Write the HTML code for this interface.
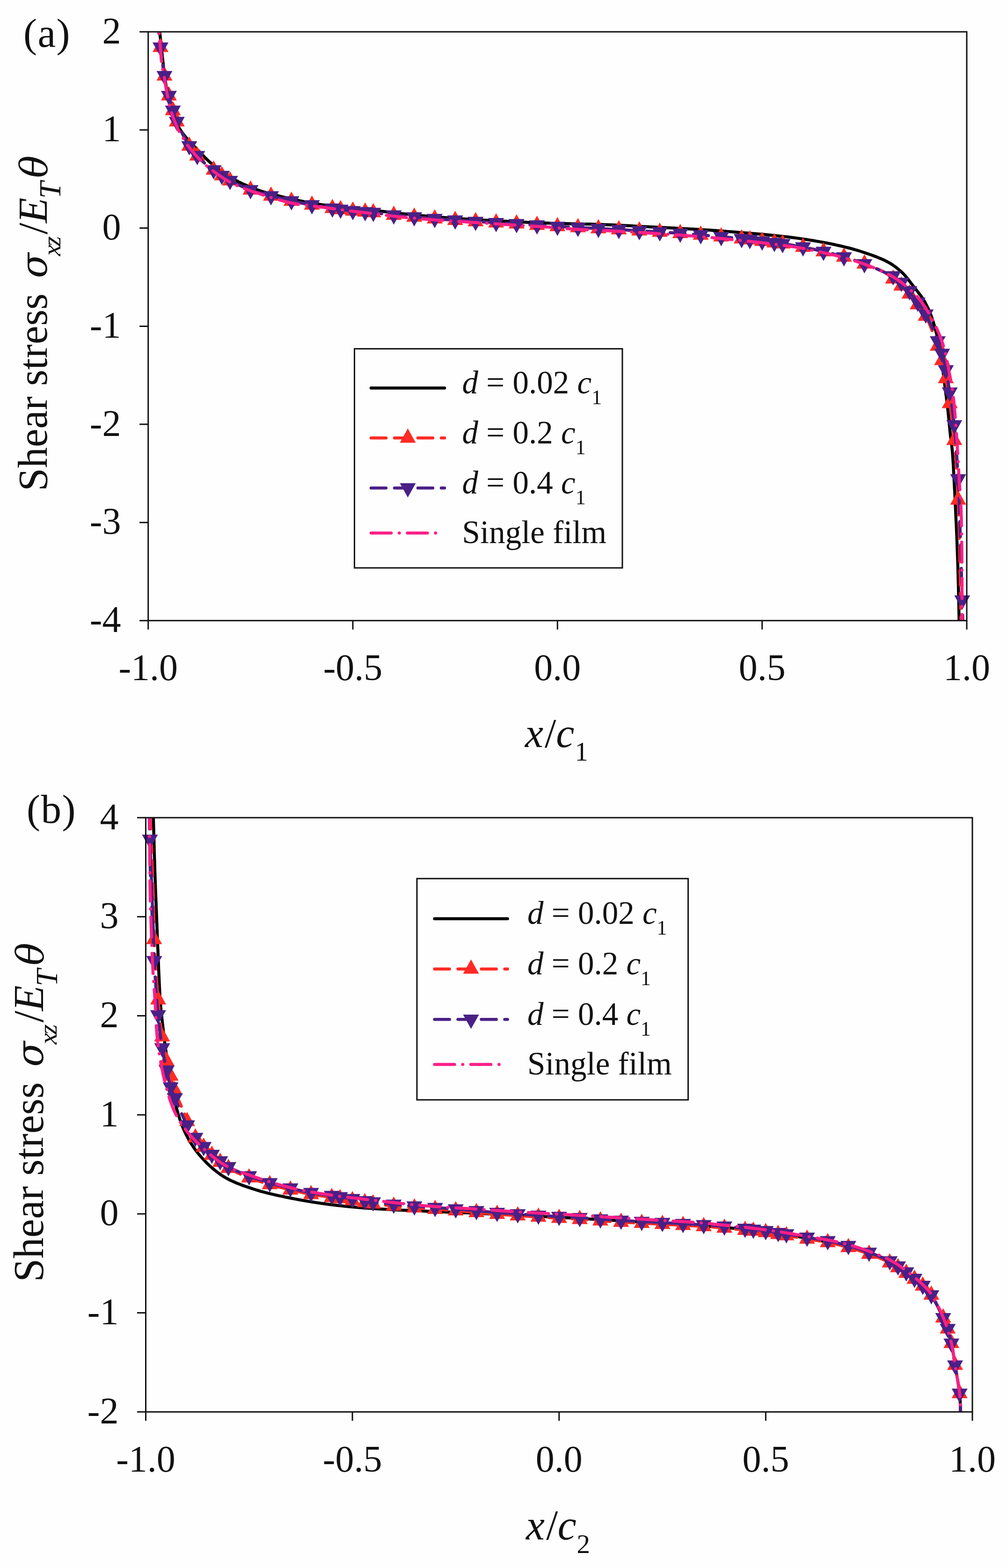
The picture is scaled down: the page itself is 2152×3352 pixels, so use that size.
<!DOCTYPE html>
<html><head><meta charset="utf-8"><title>Shear stress distribution</title>
<style>html,body{margin:0;padding:0;background:#fefefe}svg{display:block}</style></head>
<body>
<svg width="2152" height="3352" viewBox="0 0 2152 3352">
<style>
text{font-family:"Liberation Serif","Times New Roman",serif;fill:#111}
.tk{font-size:80px}
.yt{font-size:89px}
.gk{font-family:"DejaVu Serif",serif;font-style:italic;font-size:79px}
.ysub{font-size:55px;font-style:italic}
.lg{font-size:69px}
.lsub{font-size:44px}
.pl{font-size:87px;letter-spacing:1.5px}
</style>
<rect width="2152" height="3352" fill="#fefefe"/>
<clipPath id="ca"><rect x="316.7" y="68" width="1749.3" height="1258.7"/></clipPath>
<path clip-path="url(#ca)" fill="none" stroke-width="6.5" stroke-linecap="round" stroke-linejoin="round" d="M340.5 60 L341.2 66.4 L341.8 72.8 L342.5 79.2 L343.2 85.7 L343.8 92.1 L344.5 98.6 L345.2 104.9 L345.9 111.3 L346.6 117.6 L347.3 123.8 L348 130 L348.7 135.7 L349.3 141.3 L350 146.9 L350.7 152.4 L351.3 157.9 L352 163.4 L352.7 168.8 L353.5 174.2 L354.3 179.5 L355.1 184.8 L356 190 L356.8 194.8 L357.7 199.6 L358.5 204.3 L359.4 209.1 L360.3 213.8 L361.3 218.4 L362.3 223 L363.3 227.4 L364.5 231.7 L365.7 235.9 L367 240 L368.2 243.3 L369.4 246.5 L370.7 249.6 L372 252.6 L373.3 255.6 L374.7 258.5 L376.2 261.4 L377.6 264.1 L379.1 266.8 L380.5 269.4 L382 272 L383.2 274 L384.4 276 L385.6 277.8 L386.8 279.7 L388 281.4 L389.2 283.1 L390.5 284.9 L391.8 286.6 L393.1 288.4 L394.5 290.1 L396 292 L397.9 294.3 L399.8 296.6 L401.9 298.9 L404 301.2 L406.2 303.6 L408.4 306 L410.7 308.4 L413 310.8 L415.3 313.2 L417.7 315.6 L420 318 L422.6 320.7 L425.1 323.4 L427.7 326.1 L430.3 328.9 L433 331.7 L435.7 334.4 L438.4 337.2 L441.2 339.9 L444.1 342.7 L447 345.4 L450 348 L453.3 350.8 L456.7 353.7 L460.1 356.5 L463.5 359.3 L467.1 362.1 L470.7 364.9 L474.3 367.6 L478.1 370.3 L482 372.9 L485.9 375.5 L490 378 L494.8 380.8 L499.7 383.5 L504.9 386.2 L510.2 388.8 L515.5 391.4 L521 393.9 L526.5 396.3 L531.9 398.6 L537.4 400.9 L542.7 403 L548 405 L552.7 406.7 L557.3 408.3 L561.9 409.8 L566.4 411.2 L570.9 412.5 L575.5 413.8 L580.1 415 L584.8 416.2 L589.7 417.5 L594.8 418.7 L600 420 L607 421.7 L614.3 423.4 L621.7 425.1 L629.4 426.8 L637.3 428.4 L645.3 430.1 L653.5 431.7 L661.8 433.2 L670.1 434.7 L678.6 436.1 L687 437.5 L696.7 438.9 L706.7 440.3 L716.9 441.5 L727.2 442.7 L737.7 443.8 L748.2 444.8 L758.8 445.8 L769.3 446.9 L779.7 447.9 L789.9 448.9 L800 450 L809.3 451 L818.6 452.1 L827.7 453.1 L836.8 454.2 L845.9 455.2 L854.9 456.3 L863.9 457.3 L872.9 458.3 L881.9 459.2 L890.9 460.1 L900 461 L909.1 461.8 L918.2 462.6 L927.3 463.4 L936.3 464.1 L945.4 464.8 L954.5 465.4 L963.6 466.1 L972.7 466.7 L981.8 467.3 L990.9 467.9 L1000 468.5 L1009.1 469.1 L1018.3 469.6 L1027.6 470.2 L1036.8 470.7 L1046.1 471.2 L1055.3 471.7 L1064.5 472.2 L1073.5 472.7 L1082.5 473.1 L1091.3 473.6 L1100 474 L1107.6 474.4 L1114.9 474.7 L1122.1 475 L1129.2 475.4 L1136.3 475.7 L1143.3 475.9 L1150.4 476.2 L1157.5 476.5 L1164.8 476.8 L1172.3 477 L1180 477.3 L1189.3 477.6 L1198.8 477.8 L1208.5 478.1 L1218.4 478.3 L1228.4 478.5 L1238.5 478.7 L1248.7 478.9 L1258.8 479.1 L1269 479.4 L1279 479.7 L1289 480 L1298.9 480.4 L1308.9 480.8 L1318.8 481.3 L1328.7 481.8 L1338.6 482.3 L1348.6 482.8 L1358.5 483.4 L1368.4 483.9 L1378.3 484.4 L1388.3 485 L1398.2 485.5 L1408.3 486 L1418.6 486.6 L1429 487.1 L1439.5 487.6 L1450 488.2 L1460.4 488.7 L1470.5 489.3 L1480.4 489.8 L1489.9 490.3 L1498.9 490.9 L1507.3 491.4 L1512.8 491.8 L1517.9 492.1 L1522.8 492.4 L1527.4 492.8 L1532 493.1 L1536.4 493.4 L1540.9 493.8 L1545.4 494.1 L1550.1 494.5 L1554.9 494.9 L1560 495.3 L1566.5 495.8 L1573.2 496.3 L1580.2 496.9 L1587.2 497.4 L1594.4 498 L1601.6 498.6 L1608.9 499.2 L1616.3 499.8 L1623.5 500.4 L1630.8 501.1 L1637.9 501.8 L1645 502.5 L1652.1 503.2 L1659.2 504 L1666.3 504.7 L1673.3 505.5 L1680.4 506.3 L1687.5 507.1 L1694.6 508 L1701.7 508.9 L1708.7 509.9 L1715.8 510.9 L1723 512 L1730.2 513.1 L1737.5 514.3 L1744.9 515.6 L1752.2 516.9 L1759.5 518.2 L1766.7 519.5 L1773.7 520.9 L1780.6 522.3 L1787.3 523.8 L1793.8 525.2 L1798.9 526.4 L1803.9 527.6 L1808.8 528.8 L1813.5 530 L1818.2 531.2 L1822.8 532.5 L1827.4 533.8 L1831.9 535.1 L1836.5 536.5 L1841.1 538 L1845.7 539.5 L1850.5 541.1 L1855.4 542.8 L1860.4 544.5 L1865.4 546.3 L1870.3 548.1 L1875.2 550 L1880 551.9 L1884.7 553.9 L1889.2 556 L1893.6 558.1 L1897.7 560.3 L1901 562.2 L1904.1 564.1 L1907.2 566.1 L1910.1 568.1 L1913 570.2 L1915.8 572.3 L1918.5 574.4 L1921.1 576.7 L1923.7 578.9 L1926.3 581.2 L1928.8 583.6 L1931.2 586 L1933.5 588.4 L1935.7 591 L1937.9 593.6 L1940 596.2 L1942.1 598.9 L1944.1 601.5 L1946.1 604.2 L1948.2 606.9 L1950.2 609.6 L1952.2 612.2 L1954.2 614.7 L1956.2 617.2 L1958.2 619.7 L1960.1 622.2 L1962.1 624.7 L1964 627.2 L1965.9 629.7 L1967.8 632.2 L1969.6 634.8 L1971.3 637.4 L1973 640 L1974.6 642.6 L1976.1 645.2 L1977.6 647.9 L1979 650.5 L1980.4 653.2 L1981.7 655.9 L1983.1 658.6 L1984.3 661.4 L1985.6 664.2 L1986.8 667.1 L1988 670 L1989.3 673.2 L1990.5 676.5 L1991.7 679.8 L1992.8 683.2 L1993.9 686.6 L1995 690.1 L1996 693.6 L1997 697.2 L1998 700.7 L1999 704.4 L2000 708 L2001 712 L2002.1 716.1 L2003 720.3 L2004 724.4 L2004.9 728.6 L2005.8 732.9 L2006.7 737.2 L2007.6 741.6 L2008.4 746 L2009.2 750.5 L2010 755 L2010.9 760.2 L2011.7 765.4 L2012.4 770.7 L2013.2 776.2 L2013.9 781.6 L2014.6 787.1 L2015.3 792.7 L2015.9 798.3 L2016.6 803.8 L2017.3 809.4 L2018 815 L2018.7 820.8 L2019.5 826.8 L2020.3 832.8 L2021 838.8 L2021.8 844.8 L2022.5 850.9 L2023.3 856.9 L2024 862.8 L2024.7 868.7 L2025.4 874.4 L2026 880 L2026.5 884.8 L2027 889.6 L2027.5 894.3 L2028 899 L2028.4 903.7 L2028.8 908.2 L2029.3 912.7 L2029.7 917.2 L2030.1 921.5 L2030.6 925.8 L2031 930 L2031.4 933.4 L2031.8 936.6 L2032.2 939.7 L2032.6 942.8 L2033 945.8 L2033.4 948.7 L2033.8 951.8 L2034.1 954.9 L2034.5 958.1 L2034.9 961.5 L2035.2 965 L2035.6 970 L2036 975.2 L2036.4 980.5 L2036.7 986 L2037.1 991.7 L2037.4 997.5 L2037.7 1003.4 L2038 1009.5 L2038.3 1015.6 L2038.7 1021.8 L2039 1028 L2039.4 1035.7 L2039.8 1043.7 L2040.3 1051.8 L2040.7 1060.2 L2041.1 1068.6 L2041.5 1077.2 L2041.9 1085.8 L2042.3 1094.4 L2042.7 1103 L2043.1 1111.6 L2043.5 1120 L2043.9 1128.3 L2044.2 1136.5 L2044.6 1144.7 L2044.9 1152.8 L2045.2 1161 L2045.5 1169.2 L2045.8 1177.4 L2046.1 1185.8 L2046.4 1194.3 L2046.7 1203.1 L2047 1212 L2047.3 1222.8 L2047.6 1234 L2047.9 1245.4 L2048.2 1257 L2048.4 1268.8 L2048.7 1280.6 L2049 1292.6 L2049.2 1304.5 L2049.5 1316.4 L2049.7 1328.3 L2050 1340" stroke="#000"/>
<path clip-path="url(#ca)" fill="none" stroke-width="6.5" stroke-linecap="round" stroke-linejoin="round" d="M336.8 40 L337.4 45.5 L337.9 51.1 L338.4 56.6 L339 62.2 L339.5 67.7 L340 73.3 L340.6 78.8 L341.1 84.4 L341.7 89.9 L342.4 95.5 L343 101 L343.7 106.6 L344.4 112.3 L345.1 118 L345.8 123.7 L346.5 129.4 L347.3 135 L348.1 140.7 L348.9 146.2 L349.7 151.6 L350.6 156.9 L351.5 162 L352.3 166.2 L353.1 170.3 L353.9 174.3 L354.7 178.3 L355.6 182.2 L356.5 186.1 L357.4 189.9 L358.2 193.6 L359.1 197.3 L360 200.9 L360.9 204.5 L361.7 207.6 L362.4 210.6 L363.2 213.6 L363.9 216.5 L364.7 219.4 L365.4 222.3 L366.2 225.1 L367 227.9 L367.8 230.6 L368.6 233.3 L369.4 236 L370.1 238.3 L370.8 240.5 L371.4 242.6 L372.1 244.6 L372.8 246.7 L373.4 248.7 L374.2 250.8 L375 253 L375.8 255.2 L376.8 257.5 L377.8 260 L379.6 264.1 L381.6 268.6 L383.9 273.5 L386.3 278.6 L388.9 283.8 L391.5 289 L394.2 294.2 L396.8 299.1 L399.4 303.8 L402 308.1 L404.4 312 L406 314.4 L407.5 316.6 L409.1 318.6 L410.6 320.6 L412.1 322.5 L413.6 324.3 L415.2 326 L416.7 327.8 L418.3 329.5 L419.9 331.2 L421.5 333 L423.1 334.8 L424.8 336.6 L426.5 338.3 L428.2 340.1 L429.9 341.8 L431.7 343.5 L433.4 345.2 L435.2 346.8 L436.9 348.4 L438.7 350 L440.5 351.5 L442.2 352.9 L443.9 354.3 L445.7 355.6 L447.4 356.9 L449.2 358.1 L450.9 359.4 L452.7 360.6 L454.4 361.8 L456.2 363 L457.9 364.2 L459.6 365.4 L461.2 366.5 L462.7 367.6 L464.3 368.7 L465.8 369.8 L467.3 370.8 L468.9 371.9 L470.4 372.9 L471.9 374 L473.4 375 L475 376 L476.5 377 L477.9 377.9 L479.3 378.8 L480.7 379.7 L482 380.6 L483.4 381.4 L484.8 382.3 L486.2 383.2 L487.7 384 L489.2 384.9 L490.9 385.8 L492.7 386.8 L495.8 388.4 L499.1 390.1 L502.7 391.8 L506.5 393.6 L510.4 395.5 L514.4 397.3 L518.6 399.1 L522.7 400.9 L526.8 402.6 L530.9 404.3 L534.9 405.8 L538.8 407.2 L542.7 408.5 L546.7 409.8 L550.6 411 L554.6 412.2 L558.5 413.4 L562.5 414.5 L566.5 415.6 L570.5 416.6 L574.5 417.7 L578.5 418.8 L582.5 419.9 L586.5 420.9 L590.5 422 L594.5 423 L598.5 424 L602.5 425 L606.5 426 L610.6 427 L614.6 427.9 L618.6 428.8 L622.6 429.7 L626.6 430.6 L630.5 431.4 L634.5 432.2 L638.4 432.9 L642.4 433.7 L646.4 434.4 L650.3 435.2 L654.3 435.9 L658.3 436.6 L662.2 437.3 L666.2 438 L670.2 438.7 L674.2 439.4 L678.2 440.1 L682.2 440.8 L686.2 441.5 L690.2 442.2 L694.3 442.8 L698.3 443.5 L702.3 444.1 L706.3 444.7 L710.3 445.3 L714.3 445.9 L718.2 446.4 L722.2 447 L726.1 447.5 L730.1 448 L734.1 448.5 L738 449 L742 449.5 L745.9 449.9 L749.9 450.4 L753.9 450.8 L757.9 451.2 L761.9 451.6 L766 451.9 L770 452.2 L774 452.5 L778.1 452.8 L782.1 453.1 L786.1 453.4 L790.2 453.7 L794.2 454.1 L798.2 454.5 L802.2 454.9 L806 455.4 L809.8 455.9 L813.6 456.4 L817.4 456.9 L821.2 457.4 L825.1 457.9 L829.1 458.5 L833.3 459 L837.6 459.5 L842.2 460 L849 460.7 L856.2 461.4 L863.8 462.1 L871.6 462.8 L879.7 463.5 L887.9 464.2 L896.2 464.9 L904.5 465.6 L912.8 466.2 L921 466.9 L929 467.5 L936.9 468.1 L944.7 468.7 L952.6 469.3 L960.4 469.8 L968.3 470.4 L976.1 470.9 L984 471.5 L991.9 472 L999.7 472.5 L1007.6 473 L1015.5 473.5 L1023.4 474 L1031.4 474.5 L1039.4 474.9 L1047.3 475.3 L1055.3 475.8 L1063.3 476.2 L1071.3 476.6 L1079.3 477 L1087.2 477.5 L1095.2 477.9 L1103.2 478.4 L1111.2 478.9 L1119.1 479.4 L1127.1 479.9 L1135.1 480.4 L1143.1 481 L1151 481.5 L1159 482 L1167 482.5 L1175 483 L1182.9 483.5 L1190.9 484 L1198.9 484.5 L1206.9 484.9 L1214.9 485.3 L1222.8 485.7 L1230.8 486.1 L1238.8 486.6 L1246.8 487 L1254.8 487.4 L1262.8 487.8 L1270.7 488.2 L1278.7 488.6 L1286.6 489 L1294.5 489.5 L1302.4 489.9 L1310.3 490.3 L1318.2 490.7 L1326.1 491.2 L1333.9 491.6 L1341.8 492 L1349.7 492.5 L1357.6 492.9 L1365.5 493.4 L1373.4 493.9 L1381.3 494.3 L1389.3 494.8 L1397.2 495.2 L1405.1 495.7 L1413 496.2 L1421 496.7 L1428.9 497.2 L1436.8 497.7 L1444.8 498.2 L1452.7 498.8 L1460.8 499.4 L1469.1 500 L1477.4 500.7 L1485.9 501.3 L1494.3 502 L1502.6 502.7 L1510.8 503.4 L1518.7 504.1 L1526.4 504.7 L1533.6 505.4 L1540.5 506 L1545.1 506.4 L1549.4 506.8 L1553.6 507.2 L1557.6 507.6 L1561.5 507.9 L1565.4 508.3 L1569.2 508.7 L1572.9 509.1 L1576.7 509.5 L1580.6 509.9 L1584.5 510.3 L1588.5 510.7 L1592.4 511.2 L1596.4 511.6 L1600.3 512.1 L1604.3 512.6 L1608.2 513.1 L1612.2 513.6 L1616.1 514 L1620.1 514.5 L1624 515 L1628 515.5 L1632 516 L1636 516.5 L1640 516.9 L1644.1 517.4 L1648.1 517.9 L1652.1 518.4 L1656.1 518.9 L1660.2 519.4 L1664.2 519.9 L1668.2 520.4 L1672.2 521 L1676.2 521.6 L1680.2 522.2 L1684.1 522.8 L1688.1 523.4 L1692.1 524 L1696 524.7 L1700 525.4 L1704 526 L1707.9 526.7 L1711.9 527.5 L1715.8 528.2 L1719.7 529 L1723.6 529.7 L1727.5 530.5 L1731.4 531.3 L1735.3 532.2 L1739.2 533 L1743.1 533.9 L1747 534.8 L1750.9 535.7 L1754.8 536.6 L1758.7 537.5 L1762.6 538.5 L1766.6 539.4 L1770.5 540.4 L1774.5 541.4 L1778.4 542.4 L1782.3 543.5 L1786.3 544.5 L1790.2 545.6 L1794.1 546.7 L1798.1 547.8 L1802 549 L1806 550.2 L1810 551.4 L1813.9 552.6 L1817.9 553.9 L1821.9 555.1 L1825.9 556.4 L1829.8 557.8 L1833.8 559.1 L1837.8 560.5 L1841.7 561.9 L1845.7 563.4 L1849.8 564.9 L1854 566.5 L1858.3 568.1 L1862.7 569.8 L1867 571.5 L1871.2 573.2 L1875.4 574.9 L1879.3 576.7 L1883.1 578.5 L1886.7 580.2 L1889.9 582 L1892 583.2 L1893.9 584.5 L1895.7 585.7 L1897.5 587 L1899.1 588.2 L1900.7 589.5 L1902.3 590.8 L1903.8 592.1 L1905.4 593.4 L1907 594.7 L1908.6 596 L1910.2 597.3 L1911.9 598.6 L1913.5 600 L1915.1 601.3 L1916.7 602.7 L1918.2 604 L1919.8 605.4 L1921.4 606.8 L1923 608.2 L1924.5 609.6 L1926.1 611 L1927.7 612.5 L1929.3 613.9 L1930.9 615.4 L1932.6 616.9 L1934.2 618.4 L1935.8 619.9 L1937.4 621.5 L1938.9 623 L1940.5 624.6 L1942.1 626.3 L1943.6 628 L1945.3 629.9 L1946.9 631.9 L1948.5 633.9 L1950.1 636 L1951.7 638.1 L1953.3 640.2 L1954.8 642.4 L1956.4 644.5 L1958 646.7 L1959.5 648.8 L1961.1 651 L1962.7 653.1 L1964.3 655.2 L1965.8 657.2 L1967.4 659.3 L1969 661.3 L1970.5 663.4 L1972.1 665.6 L1973.6 667.8 L1975.2 670.3 L1976.7 672.8 L1978.3 675.6 L1980.7 680.3 L1983.2 685.6 L1985.7 691.3 L1988.3 697.5 L1990.8 703.8 L1993.3 710.2 L1995.7 716.6 L1998 722.9 L2000.2 728.9 L2002.2 734.5 L2004 739.6 L2005.1 742.8 L2006.1 745.8 L2007.1 748.6 L2008 751.4 L2008.8 754 L2009.6 756.7 L2010.3 759.3 L2011.1 761.9 L2011.8 764.6 L2012.6 767.4 L2013.3 770.3 L2014.1 773.6 L2014.9 777 L2015.7 780.3 L2016.4 783.7 L2017.1 787.2 L2017.9 790.7 L2018.5 794.3 L2019.2 797.9 L2019.9 801.5 L2020.6 805.2 L2021.3 809 L2022.1 813.5 L2022.9 818 L2023.7 822.6 L2024.4 827.3 L2025.2 832 L2026 836.9 L2026.7 841.8 L2027.5 846.8 L2028.2 851.9 L2029 857 L2029.7 862.3 L2030.6 868.8 L2031.5 875.4 L2032.4 882.1 L2033.4 889 L2034.3 895.9 L2035.2 903.1 L2036 910.3 L2036.9 917.7 L2037.7 925.3 L2038.5 933.1 L2039.3 941 L2040.2 951.2 L2041.1 961.6 L2042 972.1 L2042.8 982.9 L2043.5 993.9 L2044.3 1005.3 L2045 1017 L2045.7 1029.1 L2046.3 1041.7 L2047 1054.8 L2047.6 1068.5 L2048.5 1090.5 L2049.3 1114.3 L2050 1139.4 L2050.6 1165.7 L2051.2 1193 L2051.7 1220.8 L2052.3 1249 L2052.8 1277.3 L2053.3 1305.4 L2053.9 1333.1 L2054.5 1360" stroke="#ff2a24" stroke-dasharray="32 18"/>
<path fill="#ff2a24" d="M343 80.7 L360 111.2 L326 111.2 Z M351.5 141.7 L368.5 172.2 L334.5 172.2 Z M360.9 184.2 L377.9 214.7 L343.9 214.7 Z M369.4 215.7 L386.4 246.2 L352.4 246.2 Z M377.8 239.7 L394.8 270.2 L360.8 270.2 Z M404.4 291.7 L421.4 322.2 L387.4 322.2 Z M421.5 312.7 L438.5 343.2 L404.5 343.2 Z M456.6 343 L473.6 373.5 L439.6 373.5 Z M474.1 355.1 L491.1 385.6 L457.1 385.6 Z M491.6 365.9 L508.6 396.4 L474.6 396.4 Z M535.4 385.6 L552.4 416.1 L518.4 416.1 Z M579.1 398.6 L596.1 429.1 L562.1 429.1 Z M622.8 409.4 L639.8 439.9 L605.8 439.9 Z M666.6 417.7 L683.6 448.2 L649.6 448.2 Z M710.3 425 L727.3 455.5 L693.3 455.5 Z M727.8 427.4 L744.8 457.9 L710.8 457.9 Z M754 430.5 L771 461 L737 461 Z M780.3 432.6 L797.3 463.1 L763.3 463.1 Z M797.8 434.1 L814.8 464.6 L780.8 464.6 Z M841.5 439.6 L858.5 470.1 L824.5 470.1 Z M885.2 443.6 L902.2 474.1 L868.2 474.1 Z M929 447.2 L946 477.7 L912 477.7 Z M972.7 450.4 L989.7 480.9 L955.7 480.9 Z M1016.4 453.2 L1033.4 483.7 L999.4 483.7 Z M1060.2 455.7 L1077.2 486.2 L1043.2 486.2 Z M1103.9 458.1 L1120.9 488.6 L1086.9 488.6 Z M1147.6 460.9 L1164.6 491.4 L1130.6 491.4 Z M1191.3 463.7 L1208.3 494.2 L1174.3 494.2 Z M1235.1 466 L1252.1 496.5 L1218.1 496.5 Z M1278.8 468.3 L1295.8 498.8 L1261.8 498.8 Z M1322.5 470.6 L1339.5 501.1 L1305.5 501.1 Z M1366.3 473.1 L1383.3 503.6 L1349.3 503.6 Z M1410 475.7 L1427 506.2 L1393 506.2 Z M1453.7 478.5 L1470.7 509 L1436.7 509 Z M1497.5 482 L1514.5 512.5 L1480.5 512.5 Z M1541.2 485.7 L1558.2 516.2 L1524.2 516.2 Z M1584.9 490 L1601.9 520.5 L1567.9 520.5 Z M1602.4 492 L1619.4 522.5 L1585.4 522.5 Z M1628.7 495.2 L1645.7 525.7 L1611.7 525.7 Z M1654.9 498.4 L1671.9 528.9 L1637.9 528.9 Z M1672.4 500.7 L1689.4 531.2 L1655.4 531.2 Z M1716.1 507.9 L1733.1 538.4 L1699.1 538.4 Z M1759.9 517.5 L1776.9 548 L1742.9 548 Z M1803.6 529.1 L1820.6 559.6 L1786.6 559.6 Z M1847.3 543.7 L1864.3 574.2 L1830.3 574.2 Z M1908.6 575.7 L1925.6 606.2 L1891.6 606.2 Z M1926.1 590.7 L1943.1 621.2 L1909.1 621.2 Z M1943.6 607.7 L1960.6 638.2 L1926.6 638.2 Z M1961.1 630.7 L1978.1 661.2 L1944.1 661.2 Z M1978.3 655.3 L1995.3 685.8 L1961.3 685.8 Z M2004 719.3 L2021 749.8 L1987 749.8 Z M2013.3 750 L2030.3 780.5 L1996.3 780.5 Z M2021.3 788.7 L2038.3 819.2 L2004.3 819.2 Z M2029.7 842 L2046.7 872.5 L2012.7 872.5 Z M2039.3 920.7 L2056.3 951.2 L2022.3 951.2 Z M2047.6 1048.2 L2064.6 1078.7 L2030.6 1078.7 Z"/>
<path clip-path="url(#ca)" fill="none" stroke-width="6.5" stroke-linecap="round" stroke-linejoin="round" d="M336.8 40 L337.4 45.5 L337.9 51.1 L338.4 56.6 L339 62.2 L339.5 67.7 L340 73.3 L340.6 78.8 L341.1 84.4 L341.7 89.9 L342.4 95.5 L343 101 L343.7 106.6 L344.4 112.3 L345.1 118 L345.8 123.7 L346.5 129.4 L347.3 135 L348.1 140.7 L348.9 146.2 L349.7 151.6 L350.6 156.9 L351.5 162 L352.3 166.2 L353.1 170.3 L353.9 174.3 L354.7 178.3 L355.6 182.2 L356.5 186.1 L357.4 189.9 L358.2 193.6 L359.1 197.3 L360 200.9 L360.9 204.5 L361.7 207.6 L362.4 210.6 L363.2 213.6 L363.9 216.5 L364.7 219.4 L365.4 222.3 L366.2 225.1 L367 227.9 L367.8 230.6 L368.6 233.3 L369.4 236 L370.1 238.3 L370.8 240.5 L371.4 242.6 L372.1 244.6 L372.8 246.7 L373.4 248.7 L374.2 250.8 L375 253 L375.8 255.2 L376.8 257.5 L377.8 260 L379.6 264.1 L381.6 268.6 L383.9 273.5 L386.3 278.6 L388.9 283.8 L391.5 289 L394.2 294.2 L396.8 299.1 L399.4 303.8 L402 308.1 L404.4 312 L406 314.4 L407.5 316.6 L409.1 318.6 L410.6 320.6 L412.1 322.5 L413.6 324.3 L415.2 326 L416.7 327.8 L418.3 329.5 L419.9 331.2 L421.5 333 L423.1 334.8 L424.8 336.6 L426.5 338.3 L428.2 340.1 L429.9 341.8 L431.7 343.5 L433.4 345.2 L435.2 346.8 L436.9 348.4 L438.7 350 L440.5 351.5 L442.2 352.9 L443.9 354.3 L445.7 355.6 L447.4 356.9 L449.2 358.1 L450.9 359.4 L452.7 360.6 L454.4 361.8 L456.2 363 L457.9 364.2 L459.6 365.4 L461.2 366.5 L462.7 367.6 L464.3 368.7 L465.8 369.8 L467.3 370.8 L468.9 371.9 L470.4 372.9 L471.9 374 L473.4 375 L475 376 L476.5 377 L477.9 377.9 L479.3 378.8 L480.7 379.7 L482 380.6 L483.4 381.4 L484.8 382.3 L486.2 383.2 L487.7 384 L489.2 384.9 L490.9 385.8 L492.7 386.8 L495.8 388.4 L499.1 390.1 L502.7 391.8 L506.5 393.6 L510.4 395.5 L514.4 397.3 L518.6 399.1 L522.7 400.9 L526.8 402.6 L530.9 404.3 L534.9 405.8 L538.8 407.2 L542.7 408.5 L546.7 409.8 L550.6 411 L554.6 412.2 L558.5 413.4 L562.5 414.5 L566.5 415.6 L570.5 416.6 L574.5 417.7 L578.5 418.8 L582.5 419.9 L586.5 420.9 L590.5 422 L594.5 423 L598.5 424 L602.5 425 L606.5 426 L610.6 427 L614.6 427.9 L618.6 428.8 L622.6 429.7 L626.6 430.6 L630.5 431.4 L634.5 432.2 L638.4 432.9 L642.4 433.7 L646.4 434.4 L650.3 435.2 L654.3 435.9 L658.3 436.6 L662.2 437.3 L666.2 438 L670.2 438.7 L674.2 439.4 L678.2 440.1 L682.2 440.8 L686.2 441.5 L690.2 442.2 L694.3 442.8 L698.3 443.5 L702.3 444.1 L706.3 444.7 L710.3 445.3 L714.3 445.9 L718.2 446.4 L722.2 447 L726.1 447.5 L730.1 448 L734.1 448.5 L738 449 L742 449.5 L745.9 449.9 L749.9 450.4 L753.9 450.8 L757.9 451.2 L761.9 451.6 L766 451.9 L770 452.2 L774 452.5 L778.1 452.8 L782.1 453.1 L786.1 453.4 L790.2 453.7 L794.2 454.1 L798.2 454.5 L802.2 454.9 L806 455.4 L809.8 455.9 L813.6 456.4 L817.4 456.9 L821.2 457.4 L825.1 457.9 L829.1 458.5 L833.3 459 L837.6 459.5 L842.2 460 L849 460.7 L856.2 461.4 L863.8 462.1 L871.6 462.8 L879.7 463.5 L887.9 464.2 L896.2 464.9 L904.5 465.6 L912.8 466.2 L921 466.9 L929 467.5 L936.9 468.1 L944.7 468.7 L952.6 469.3 L960.4 469.8 L968.3 470.4 L976.1 470.9 L984 471.5 L991.9 472 L999.7 472.5 L1007.6 473 L1015.5 473.5 L1023.4 474 L1031.4 474.5 L1039.4 474.9 L1047.3 475.3 L1055.3 475.8 L1063.3 476.2 L1071.3 476.6 L1079.3 477 L1087.2 477.5 L1095.2 477.9 L1103.2 478.4 L1111.2 478.9 L1119.1 479.4 L1127.1 479.9 L1135.1 480.4 L1143.1 481 L1151 481.5 L1159 482 L1167 482.5 L1175 483 L1182.9 483.5 L1190.9 484 L1198.9 484.5 L1206.9 484.9 L1214.9 485.3 L1222.8 485.7 L1230.8 486.1 L1238.8 486.6 L1246.8 487 L1254.8 487.4 L1262.8 487.8 L1270.7 488.2 L1278.7 488.6 L1286.6 489 L1294.5 489.5 L1302.4 489.9 L1310.3 490.3 L1318.2 490.7 L1326.1 491.2 L1333.9 491.6 L1341.8 492 L1349.7 492.5 L1357.6 492.9 L1365.5 493.4 L1373.4 493.9 L1381.3 494.3 L1389.3 494.8 L1397.2 495.2 L1405.1 495.7 L1413 496.2 L1421 496.7 L1428.9 497.2 L1436.8 497.7 L1444.8 498.2 L1452.7 498.8 L1460.8 499.4 L1469.1 500 L1477.4 500.7 L1485.9 501.3 L1494.3 502 L1502.6 502.7 L1510.8 503.4 L1518.7 504.1 L1526.4 504.7 L1533.6 505.4 L1540.5 506 L1545.1 506.4 L1549.4 506.8 L1553.6 507.2 L1557.6 507.6 L1561.5 507.9 L1565.4 508.3 L1569.2 508.7 L1572.9 509.1 L1576.7 509.5 L1580.6 509.9 L1584.5 510.3 L1588.5 510.7 L1592.4 511.2 L1596.4 511.6 L1600.3 512.1 L1604.3 512.6 L1608.2 513.1 L1612.2 513.6 L1616.1 514 L1620.1 514.5 L1624 515 L1628 515.5 L1632 516 L1636 516.5 L1640 516.9 L1644.1 517.4 L1648.1 517.9 L1652.1 518.4 L1656.1 518.9 L1660.2 519.4 L1664.2 519.9 L1668.2 520.4 L1672.2 521 L1676.2 521.6 L1680.2 522.2 L1684.1 522.8 L1688.1 523.4 L1692.1 524 L1696 524.7 L1700 525.4 L1704 526 L1707.9 526.7 L1711.9 527.5 L1715.8 528.2 L1719.7 529 L1723.6 529.7 L1727.5 530.5 L1731.4 531.3 L1735.3 532.2 L1739.2 533 L1743.1 533.9 L1747 534.8 L1750.9 535.7 L1754.8 536.6 L1758.7 537.5 L1762.6 538.5 L1766.6 539.4 L1770.5 540.4 L1774.5 541.4 L1778.4 542.4 L1782.3 543.5 L1786.3 544.5 L1790.2 545.6 L1794.1 546.7 L1798.1 547.8 L1802 549 L1806 550.2 L1810 551.4 L1813.9 552.6 L1817.9 553.9 L1821.9 555.1 L1825.9 556.4 L1829.8 557.8 L1833.8 559.1 L1837.8 560.5 L1841.7 561.9 L1845.7 563.4 L1849.8 565 L1854 566.6 L1858.3 568.4 L1862.6 570.2 L1866.9 572 L1871.1 573.8 L1875.2 575.6 L1879.2 577.4 L1883 579 L1886.6 580.6 L1889.9 582 L1891.9 582.8 L1893.8 583.6 L1895.6 584.3 L1897.4 584.9 L1899 585.6 L1900.7 586.2 L1902.3 586.8 L1903.9 587.5 L1905.4 588.3 L1907 589.1 L1908.6 590 L1910.3 591 L1911.9 592.2 L1913.6 593.3 L1915.2 594.5 L1916.8 595.8 L1918.3 597.1 L1919.9 598.5 L1921.5 599.8 L1923 601.2 L1924.6 602.6 L1926.1 604 L1927.7 605.5 L1929.4 607 L1931 608.6 L1932.6 610.1 L1934.2 611.7 L1935.8 613.4 L1937.4 615 L1939 616.7 L1940.5 618.4 L1942.1 620.2 L1943.6 622 L1945.3 624 L1946.9 626.1 L1948.5 628.3 L1950.1 630.5 L1951.7 632.8 L1953.3 635 L1954.8 637.3 L1956.4 639.6 L1958 641.9 L1959.5 644.2 L1961.1 646.5 L1962.7 648.7 L1964.2 650.9 L1965.8 653 L1967.4 655.1 L1968.9 657.2 L1970.5 659.4 L1972 661.6 L1973.6 663.9 L1975.1 666.4 L1976.7 669 L1978.3 671.7 L1980.6 676.1 L1983.1 680.9 L1985.6 686.1 L1988.2 691.6 L1990.7 697.2 L1993.2 703 L1995.6 708.7 L1998 714.2 L2000.2 719.5 L2002.2 724.5 L2004 729 L2005.1 731.8 L2006.1 734.4 L2007.1 736.8 L2007.9 739.2 L2008.8 741.5 L2009.6 743.8 L2010.3 746.1 L2011.1 748.4 L2011.8 750.7 L2012.6 753.1 L2013.3 755.7 L2014.1 758.7 L2014.9 761.7 L2015.7 764.8 L2016.4 767.9 L2017.2 771.1 L2017.9 774.3 L2018.6 777.5 L2019.2 780.8 L2019.9 784.2 L2020.6 787.6 L2021.3 791 L2022.1 795 L2022.9 799.1 L2023.7 803.2 L2024.4 807.3 L2025.2 811.5 L2026 815.8 L2026.7 820.2 L2027.5 824.6 L2028.2 829.1 L2029 833.7 L2029.7 838.4 L2030.6 844.2 L2031.5 850 L2032.4 856 L2033.4 862.1 L2034.3 868.3 L2035.2 874.6 L2036 881.1 L2036.9 887.7 L2037.7 894.4 L2038.5 901.3 L2039.3 908.4 L2040.2 917.6 L2041.1 927 L2041.9 936.6 L2042.7 946.3 L2043.5 956.4 L2044.2 966.7 L2044.9 977.3 L2045.6 988.4 L2046.3 999.8 L2046.9 1011.6 L2047.6 1024 L2048.6 1044.2 L2049.5 1066.9 L2050.5 1091.3 L2051.3 1117 L2052.2 1143.3 L2053 1169.8 L2053.8 1195.7 L2054.5 1220.6 L2055.1 1243.8 L2055.8 1264.8 L2056.3 1283 L2056.6 1291.7 L2056.8 1299.8 L2057 1307.3 L2057.2 1314.3 L2057.4 1321.1 L2057.6 1327.6 L2057.8 1333.9 L2057.9 1340.2 L2058.1 1346.6 L2058.3 1353.2 L2058.5 1360" stroke="#4a2086" stroke-dasharray="32 18"/>
<path fill="#4a2086" d="M343 121.3 L360 90.8 L326 90.8 Z M351.5 182.3 L368.5 151.8 L334.5 151.8 Z M360.9 224.8 L377.9 194.3 L343.9 194.3 Z M369.4 256.3 L386.4 225.8 L352.4 225.8 Z M377.8 280.3 L394.8 249.8 L360.8 249.8 Z M404.4 332.3 L421.4 301.8 L387.4 301.8 Z M421.5 353.3 L438.5 322.8 L404.5 322.8 Z M456.6 383.7 L473.6 353.2 L439.6 353.2 Z M474.1 395.8 L491.1 365.3 L457.1 365.3 Z M491.6 406.6 L508.6 376.1 L474.6 376.1 Z M535.4 426.3 L552.4 395.8 L518.4 395.8 Z M579.1 439.3 L596.1 408.8 L562.1 408.8 Z M622.8 450.1 L639.8 419.6 L605.8 419.6 Z M666.6 458.4 L683.6 427.9 L649.6 427.9 Z M710.3 465.6 L727.3 435.1 L693.3 435.1 Z M727.8 468.1 L744.8 437.6 L710.8 437.6 Z M754 471.1 L771 440.6 L737 440.6 Z M780.3 473.3 L797.3 442.8 L763.3 442.8 Z M797.8 474.8 L814.8 444.3 L780.8 444.3 Z M841.5 480.3 L858.5 449.8 L824.5 449.8 Z M885.2 484.3 L902.2 453.8 L868.2 453.8 Z M929 487.8 L946 457.3 L912 457.3 Z M972.7 491 L989.7 460.5 L955.7 460.5 Z M1016.4 493.9 L1033.4 463.4 L999.4 463.4 Z M1060.2 496.4 L1077.2 465.9 L1043.2 465.9 Z M1103.9 498.8 L1120.9 468.3 L1086.9 468.3 Z M1147.6 501.6 L1164.6 471.1 L1130.6 471.1 Z M1191.3 504.4 L1208.3 473.9 L1174.3 473.9 Z M1235.1 506.7 L1252.1 476.2 L1218.1 476.2 Z M1278.8 508.9 L1295.8 478.4 L1261.8 478.4 Z M1322.5 511.3 L1339.5 480.8 L1305.5 480.8 Z M1366.3 513.8 L1383.3 483.3 L1349.3 483.3 Z M1410 516.3 L1427 485.8 L1393 485.8 Z M1453.7 519.2 L1470.7 488.7 L1436.7 488.7 Z M1497.5 522.6 L1514.5 492.1 L1480.5 492.1 Z M1541.2 526.4 L1558.2 495.9 L1524.2 495.9 Z M1584.9 530.7 L1601.9 500.2 L1567.9 500.2 Z M1602.4 532.7 L1619.4 502.2 L1585.4 502.2 Z M1628.7 535.9 L1645.7 505.4 L1611.7 505.4 Z M1654.9 539 L1671.9 508.5 L1637.9 508.5 Z M1672.4 541.4 L1689.4 510.9 L1655.4 510.9 Z M1716.1 548.6 L1733.1 518.1 L1699.1 518.1 Z M1759.9 558.1 L1776.9 527.6 L1742.9 527.6 Z M1803.6 569.8 L1820.6 539.3 L1786.6 539.3 Z M1847.3 584.4 L1864.3 553.9 L1830.3 553.9 Z M1908.6 610.3 L1925.6 579.8 L1891.6 579.8 Z M1926.1 624.3 L1943.1 593.8 L1909.1 593.8 Z M1943.6 642.3 L1960.6 611.8 L1926.6 611.8 Z M1961.1 666.8 L1978.1 636.3 L1944.1 636.3 Z M1978.3 692 L1995.3 661.5 L1961.3 661.5 Z M2004 749.3 L2021 718.8 L1987 718.8 Z M2013.3 776 L2030.3 745.5 L1996.3 745.5 Z M2021.3 811.3 L2038.3 780.8 L2004.3 780.8 Z M2029.7 858.7 L2046.7 828.2 L2012.7 828.2 Z M2039.3 928.7 L2056.3 898.2 L2022.3 898.2 Z M2047.6 1044.3 L2064.6 1013.8 L2030.6 1013.8 Z M2056.3 1303.3 L2073.3 1272.8 L2039.3 1272.8 Z"/>
<path clip-path="url(#ca)" fill="none" stroke-width="6.5" stroke-linecap="round" stroke-linejoin="round" d="M339.5 60 L340.1 67.3 L340.7 74.9 L341.2 82.6 L341.8 90.5 L342.4 98.3 L343 105.9 L343.5 113.3 L344.1 120.3 L344.7 126.9 L345.4 132.8 L346 138 L346.3 140.4 L346.7 142.5 L347 144.4 L347.4 146.2 L347.7 147.9 L348 149.6 L348.4 151.2 L348.8 152.9 L349.1 154.7 L349.5 156.6 L349.9 158.7 L350.5 161.9 L351.1 165.4 L351.7 169 L352.3 172.8 L352.9 176.7 L353.6 180.7 L354.2 184.6 L354.9 188.6 L355.6 192.5 L356.3 196.3 L357 200 L357.6 203.3 L358.3 206.6 L358.9 209.8 L359.5 213 L360.1 216.2 L360.8 219.3 L361.5 222.5 L362.2 225.6 L363 228.8 L363.9 232 L364.8 235.3 L365.9 239 L367.2 242.8 L368.5 246.7 L369.9 250.7 L371.3 254.6 L372.8 258.5 L374.3 262.3 L375.8 266 L377.3 269.5 L378.7 272.7 L380 275.6 L380.8 277.3 L381.6 278.9 L382.4 280.3 L383.1 281.7 L383.9 283 L384.7 284.3 L385.4 285.6 L386.2 286.8 L387.1 288.2 L387.9 289.5 L388.8 291 L389.9 292.9 L391 294.8 L392.2 296.7 L393.4 298.7 L394.6 300.7 L395.8 302.7 L397.1 304.7 L398.5 306.8 L399.9 308.9 L401.4 311.1 L403 313.2 L405.2 316.1 L407.5 319.1 L410 322.1 L412.6 325.2 L415.3 328.4 L418 331.6 L420.9 334.7 L423.8 337.9 L426.8 341 L429.9 344 L433 347 L436.5 350.2 L440.2 353.4 L444.1 356.7 L448 359.9 L452.1 363 L456.1 366.1 L460.2 369.1 L464.3 372 L468.3 374.8 L472.2 377.5 L476 380 L479 381.9 L482 383.8 L484.8 385.5 L487.7 387.1 L490.5 388.7 L493.4 390.2 L496.2 391.7 L499.1 393.2 L502.1 394.6 L505.1 396.1 L508.3 397.5 L511.9 399.1 L515.6 400.6 L519.3 402.1 L523.1 403.6 L527 405 L530.9 406.4 L534.9 407.8 L539 409.2 L543.2 410.6 L547.6 412 L552 413.5 L557.9 415.4 L564.1 417.4 L570.6 419.5 L577.2 421.6 L584 423.7 L590.9 425.7 L597.8 427.7 L604.7 429.6 L611.5 431.3 L618.2 433 L624.7 434.4 L630.5 435.5 L636.3 436.5 L642 437.4 L647.6 438.2 L653.3 438.9 L658.9 439.5 L664.5 440.1 L670.1 440.7 L675.7 441.3 L681.3 442 L687 442.7 L692.7 443.5 L698.3 444.2 L704 445 L709.7 445.8 L715.4 446.5 L721 447.3 L726.7 448.1 L732.4 448.8 L738.1 449.6 L743.7 450.3 L749.4 451 L755.1 451.7 L760.9 452.4 L766.7 453.1 L772.5 453.8 L778.3 454.4 L784.1 455.1 L789.8 455.7 L795.5 456.4 L801 457 L806.4 457.7 L811.7 458.3 L815.9 458.8 L820 459.3 L823.9 459.9 L827.8 460.4 L831.6 460.9 L835.3 461.4 L839.2 461.9 L843.1 462.3 L847.1 462.8 L851.3 463.3 L855.8 463.8 L862.1 464.4 L868.6 465.1 L875.4 465.7 L882.5 466.3 L889.7 466.9 L897 467.6 L904.4 468.2 L911.9 468.7 L919.2 469.3 L926.5 469.9 L933.7 470.4 L940.8 470.9 L947.9 471.4 L954.9 471.9 L962 472.3 L969.1 472.8 L976.2 473.2 L983.3 473.6 L990.3 474.1 L997.4 474.5 L1004.5 474.9 L1011.6 475.4 L1018.7 475.9 L1025.8 476.3 L1032.9 476.8 L1040 477.3 L1047.1 477.7 L1054.1 478.2 L1061.2 478.7 L1068.3 479.1 L1075.4 479.6 L1082.5 480.1 L1089.6 480.5 L1096.7 480.9 L1104 481.4 L1111.2 481.8 L1118.5 482.2 L1125.8 482.6 L1133.1 483 L1140.3 483.5 L1147.3 483.9 L1154.2 484.3 L1161 484.8 L1167.5 485.2 L1172.7 485.6 L1177.6 486 L1182.4 486.4 L1187 486.8 L1191.6 487.2 L1196.1 487.6 L1200.8 488 L1205.5 488.4 L1210.4 488.8 L1215.5 489.1 L1220.9 489.5 L1228.6 490 L1236.7 490.4 L1245.2 490.9 L1253.9 491.3 L1262.9 491.7 L1271.9 492.1 L1281.1 492.5 L1290.1 492.9 L1299.1 493.3 L1307.9 493.8 L1316.4 494.2 L1324.1 494.6 L1331.7 495 L1339.2 495.5 L1346.6 495.9 L1354 496.3 L1361.4 496.7 L1368.7 497.2 L1376.1 497.6 L1383.4 498.1 L1390.8 498.5 L1398.2 499 L1405.6 499.5 L1413.1 499.9 L1420.5 500.4 L1428 500.9 L1435.4 501.3 L1442.8 501.8 L1450.3 502.3 L1457.7 502.8 L1465.1 503.4 L1472.6 503.9 L1480 504.5 L1487.5 505.1 L1494.9 505.7 L1502.4 506.4 L1509.9 507 L1517.4 507.7 L1524.8 508.4 L1532.3 509.1 L1539.7 509.8 L1547.1 510.5 L1554.5 511.2 L1561.8 511.9 L1568.8 512.6 L1575.9 513.3 L1582.9 514 L1589.9 514.7 L1596.8 515.4 L1603.8 516.2 L1610.7 516.9 L1617.6 517.7 L1624.4 518.4 L1631.2 519.2 L1637.9 520 L1644.2 520.8 L1650.5 521.5 L1656.7 522.3 L1662.9 523 L1669.1 523.8 L1675.2 524.6 L1681.3 525.4 L1687.4 526.3 L1693.5 527.2 L1699.5 528.1 L1705.5 529.1 L1711.3 530.1 L1717.2 531.2 L1723 532.3 L1728.9 533.5 L1734.7 534.7 L1740.5 535.9 L1746.2 537.1 L1751.8 538.4 L1757.3 539.6 L1762.6 540.8 L1767.8 542 L1771.9 543 L1775.9 543.9 L1779.9 544.8 L1783.7 545.7 L1787.5 546.7 L1791.2 547.6 L1794.9 548.5 L1798.5 549.5 L1802.1 550.5 L1805.8 551.5 L1809.4 552.5 L1812.8 553.5 L1816.1 554.5 L1819.5 555.5 L1822.7 556.5 L1826 557.5 L1829.2 558.5 L1832.5 559.6 L1835.7 560.7 L1839 561.8 L1842.3 563 L1845.7 564.2 L1849.4 565.5 L1853.2 566.9 L1857 568.3 L1860.8 569.8 L1864.7 571.3 L1868.5 572.8 L1872.4 574.4 L1876.2 576 L1880 577.6 L1883.7 579.3 L1887.3 581 L1890.7 582.7 L1894.1 584.4 L1897.5 586 L1900.8 587.8 L1904.1 589.5 L1907.4 591.3 L1910.6 593.2 L1913.8 595.2 L1917.1 597.3 L1920.3 599.5 L1923.6 601.8 L1927.5 604.7 L1931.4 607.8 L1935.4 611.1 L1939.4 614.5 L1943.4 618 L1947.3 621.6 L1951.1 625.3 L1954.9 629 L1958.4 632.7 L1961.8 636.4 L1965 640 L1967.5 643.1 L1969.9 646.2 L1972.2 649.3 L1974.4 652.4 L1976.5 655.5 L1978.5 658.7 L1980.4 661.9 L1982.3 665.1 L1984.2 668.3 L1986.1 671.6 L1988 675 L1990 678.6 L1992 682.3 L1994 686.1 L1995.9 689.9 L1997.8 693.7 L1999.6 697.6 L2001.4 701.5 L2003.2 705.3 L2004.9 709.2 L2006.5 713 L2008 716.7 L2009.3 720 L2010.6 723.4 L2011.8 726.6 L2013 729.9 L2014.1 733.2 L2015.2 736.4 L2016.2 739.7 L2017.2 743 L2018.2 746.3 L2019.1 749.6 L2020 753 L2020.9 756.5 L2021.7 760.1 L2022.5 763.6 L2023.2 767.2 L2023.9 770.8 L2024.6 774.4 L2025.3 778 L2026 781.7 L2026.6 785.4 L2027.3 789.2 L2028 793 L2028.8 797.3 L2029.6 801.5 L2030.5 805.8 L2031.3 810 L2032.1 814.4 L2032.9 818.8 L2033.7 823.3 L2034.5 827.9 L2035.3 832.8 L2036 837.8 L2036.7 843 L2037.6 850.8 L2038.5 859.2 L2039.4 868 L2040.2 877.1 L2041 886.6 L2041.7 896.1 L2042.4 905.8 L2043.1 915.4 L2043.7 924.8 L2044.4 934.1 L2045 943 L2045.6 951.1 L2046.1 959.1 L2046.6 967.2 L2047 975.2 L2047.5 983.1 L2047.9 991 L2048.3 998.7 L2048.7 1006.3 L2049.2 1013.7 L2049.6 1021 L2050 1028 L2050.3 1033.4 L2050.7 1038.6 L2051.1 1043.6 L2051.4 1048.5 L2051.8 1053.2 L2052.1 1058 L2052.4 1062.8 L2052.8 1067.7 L2053.1 1072.7 L2053.3 1078 L2053.6 1083.5 L2053.9 1090.9 L2054.1 1098.4 L2054.4 1106.1 L2054.5 1114 L2054.7 1122 L2054.8 1130.3 L2055 1138.8 L2055.1 1147.5 L2055.2 1156.4 L2055.3 1165.6 L2055.4 1175 L2055.5 1188.2 L2055.6 1202.1 L2055.7 1216.5 L2055.8 1231.4 L2055.8 1246.7 L2055.8 1262.3 L2055.9 1278 L2055.9 1293.7 L2055.9 1309.3 L2056 1324.8 L2056 1340" stroke="#ff1f87" stroke-dasharray="43 17 0.5 17" stroke-dashoffset="48.9"/>
<rect x="316.7" y="68" width="1749.3" height="1258.7" fill="none" stroke="#111" stroke-width="3"/>
<path d="M298.2 68H316.7M298.2 277.8H316.7M298.2 487.6H316.7M298.2 697.4H316.7M298.2 907.1H316.7M298.2 1116.9H316.7M298.2 1326.7H316.7M316.7 1326.7V1345.7M754 1326.7V1345.7M1191.3 1326.7V1345.7M1628.7 1326.7V1345.7M2066 1326.7V1345.7" stroke="#111" stroke-width="3" fill="none"/>
<text x="258.5" y="92.5" text-anchor="end" class="tk">2</text>
<text x="258.5" y="302.3" text-anchor="end" class="tk">1</text>
<text x="258.5" y="512.1" text-anchor="end" class="tk">0</text>
<text x="258.5" y="721.9" text-anchor="end" class="tk">-1</text>
<text x="258.5" y="931.6" text-anchor="end" class="tk">-2</text>
<text x="258.5" y="1141.4" text-anchor="end" class="tk">-3</text>
<text x="258.5" y="1351.2" text-anchor="end" class="tk">-4</text>
<text x="316.7" y="1454" text-anchor="middle" class="tk">-1.0</text>
<text x="754" y="1454" text-anchor="middle" class="tk">-0.5</text>
<text x="1191.3" y="1454" text-anchor="middle" class="tk">0.0</text>
<text x="1628.7" y="1454" text-anchor="middle" class="tk">0.5</text>
<text x="2066" y="1454" text-anchor="middle" class="tk">1.0</text>
<rect x="757.5" y="745.6" width="572.5" height="468.4" fill="#fefefe" stroke="#111" stroke-width="3"/>
<g stroke-width="6.5" stroke-linecap="round" fill="none">
<line x1="793" y1="829.5" x2="950" y2="829.5" stroke="#000"/>
<line x1="793" y1="936.3" x2="950" y2="936.3" stroke="#ff2a24" stroke-dasharray="32 18"/>
<line x1="793" y1="1043.2" x2="950" y2="1043.2" stroke="#4a2086" stroke-dasharray="32 18"/>
<line x1="793" y1="1139.5" x2="932" y2="1139.5" stroke="#ff1f87" stroke-dasharray="43 17 0.5 17"/>
</g>
<path fill="#ff2a24" d="M871.5 916 L888.5 946.5 L854.5 946.5 Z"/>
<path fill="#4a2086" d="M871.5 1063.5 L888.5 1033 L854.5 1033 Z"/>
<text x="987.6" y="841" class="lg"><tspan font-style="italic">d</tspan> = 0.02 <tspan font-style="italic">c</tspan><tspan class="lsub" dy="23">1</tspan></text>
<text x="987.6" y="948.3" class="lg"><tspan font-style="italic">d</tspan> = 0.2 <tspan font-style="italic">c</tspan><tspan class="lsub" dy="23">1</tspan></text>
<text x="987.6" y="1055.2" class="lg"><tspan font-style="italic">d</tspan> = 0.4 <tspan font-style="italic">c</tspan><tspan class="lsub" dy="23">1</tspan></text>
<text x="987.6" y="1161" class="lg">Single film</text>
<text transform="translate(100.3 1050) scale(1.0) rotate(-90)" class="yt"><tspan x="0" y="0">Shear stress</tspan><tspan x="455.4" y="0" class="gk">σ</tspan><tspan x="502.7" y="28.5" class="ysub" style="letter-spacing:-3.5px">xz</tspan><tspan x="549" y="0">/</tspan><tspan x="573" y="0" font-style="italic">E</tspan><tspan x="625.5" y="29" class="ysub" style="font-size:65px">T</tspan><tspan x="669.8" y="0" class="gk" style="font-size:79.5px">θ</tspan></text>
<text y="1597" style="font-size:88px"><tspan x="1122" font-style="italic">x</tspan><tspan x="1164">/</tspan><tspan x="1188.3" font-style="italic">c</tspan><tspan x="1228.5" y="1625.5" style="font-size:57px">1</tspan></text>
<text x="50" y="99.5" class="pl">(a)</text>
<clipPath id="cb"><rect x="311.5" y="1748" width="1766.5" height="1270.3"/></clipPath>
<path clip-path="url(#cb)" fill="none" stroke-width="6.5" stroke-linecap="round" stroke-linejoin="round" d="M327.5 1740 L327.8 1750.6 L328.1 1761.3 L328.4 1772.1 L328.7 1782.8 L329 1793.6 L329.3 1804.3 L329.5 1814.9 L329.8 1825.5 L330.2 1836 L330.5 1846.4 L330.8 1856.7 L331.1 1866.1 L331.4 1875.5 L331.8 1884.8 L332.1 1894 L332.4 1903.2 L332.8 1912.3 L333.1 1921.3 L333.5 1930.3 L333.8 1939.2 L334.2 1948 L334.5 1956.7 L334.8 1964.5 L335.1 1972.2 L335.4 1979.8 L335.7 1987.2 L336 1994.7 L336.2 2002.1 L336.5 2009.5 L336.8 2016.9 L337.1 2024.5 L337.5 2032.2 L337.8 2040 L338.2 2048.9 L338.6 2058.2 L338.9 2067.8 L339.3 2077.5 L339.8 2087.3 L340.2 2097 L340.6 2106.5 L341.1 2115.7 L341.5 2124.4 L342 2132.5 L342.5 2140 L342.8 2144.4 L343.1 2148.4 L343.5 2152.1 L343.8 2155.7 L344.1 2159.1 L344.5 2162.4 L344.8 2165.8 L345.2 2169.3 L345.6 2172.9 L346 2176.8 L346.5 2181 L347.2 2187.3 L348 2194 L348.8 2201 L349.6 2208.2 L350.5 2215.7 L351.4 2223.3 L352.4 2231.1 L353.4 2238.9 L354.5 2246.7 L355.6 2254.5 L356.8 2262.3 L358.1 2270.9 L359.5 2279.8 L360.9 2288.8 L362.4 2298 L363.9 2307.2 L365.5 2316.4 L367.2 2325.5 L368.9 2334.4 L370.7 2343.2 L372.7 2351.6 L374.7 2359.7 L376.4 2366.2 L378.2 2372.6 L380 2378.8 L381.9 2385 L383.8 2391 L385.8 2396.8 L387.9 2402.6 L390.1 2408.3 L392.4 2413.9 L394.8 2419.3 L397.4 2424.7 L399.9 2429.6 L402.4 2434.3 L405.1 2439 L407.8 2443.6 L410.7 2448 L413.6 2452.4 L416.6 2456.8 L419.8 2461 L423 2465.2 L426.4 2469.3 L429.9 2473.4 L433.7 2477.6 L437.7 2481.8 L441.7 2486 L446 2490.1 L450.3 2494.1 L454.7 2498 L459.3 2501.8 L464 2505.5 L468.7 2509 L473.6 2512.4 L478.6 2515.6 L483.9 2518.7 L489.4 2521.7 L495 2524.4 L500.8 2527 L506.6 2529.5 L512.6 2531.8 L518.6 2534.1 L524.8 2536.3 L530.9 2538.4 L537.2 2540.4 L543.5 2542.5 L550.5 2544.7 L557.6 2546.8 L564.8 2548.7 L572.2 2550.6 L579.6 2552.4 L587.1 2554.1 L594.7 2555.8 L602.2 2557.4 L609.8 2559 L617.3 2560.5 L624.7 2562 L632 2563.4 L639.3 2564.8 L646.6 2566.1 L653.9 2567.4 L661.2 2568.6 L668.5 2569.8 L675.8 2570.9 L683.2 2572 L690.7 2573 L698.2 2574 L705.8 2575 L713.9 2576 L722 2577 L729.9 2577.8 L737.9 2578.7 L746 2579.5 L754.2 2580.2 L762.6 2581 L771.3 2581.7 L780.4 2582.4 L790 2583.1 L800 2583.8 L816.1 2584.8 L833.5 2585.8 L851.8 2586.7 L871 2587.6 L890.8 2588.4 L911.1 2589.2 L931.7 2590 L952.5 2590.9 L973.2 2591.7 L993.7 2592.6 L1013.8 2593.5 L1034.7 2594.5 L1055.7 2595.5 L1076.8 2596.5 L1098 2597.5 L1119.3 2598.6 L1140.7 2599.6 L1162.1 2600.7 L1183.5 2601.8 L1204.9 2602.9 L1226.2 2604 L1247.5 2605.2 L1269.3 2606.4 L1292 2607.7 L1315.1 2609 L1338.6 2610.4 L1361.9 2611.8 L1384.7 2613.1 L1406.9 2614.5 L1427.9 2615.8 L1447.5 2617 L1465.4 2618.2 L1481.3 2619.2 L1488.8 2619.7 L1495.6 2620.1 L1501.9 2620.6 L1507.8 2621 L1513.3 2621.4 L1518.8 2621.7 L1524.1 2622.1 L1529.5 2622.5 L1535 2623 L1540.8 2623.5 L1547 2624 L1554.6 2624.7 L1562.3 2625.3 L1570.3 2626.1 L1578.3 2626.8 L1586.5 2627.6 L1594.7 2628.4 L1603 2629.2 L1611.3 2630.1 L1619.5 2631 L1627.7 2632 L1635.8 2633 L1643.9 2634.1 L1651.9 2635.2 L1660 2636.3 L1668.1 2637.6 L1676.1 2638.8 L1684.2 2640.1 L1692.2 2641.4 L1700.2 2642.8 L1708.3 2644.1 L1716.3 2645.6 L1724.3 2647 L1732.3 2648.4 L1740.3 2649.8 L1748.3 2651.3 L1756.3 2652.7 L1764.2 2654.2 L1772.2 2655.7 L1780.2 2657.3 L1788.1 2659 L1796.1 2660.9 L1804 2662.8 L1811.9 2665 L1820.2 2667.4 L1828.7 2670 L1837.3 2672.7 L1845.9 2675.5 L1854.6 2678.5 L1863.1 2681.5 L1871.4 2684.7 L1879.4 2687.8 L1887 2691 L1894.1 2694.3 L1900.7 2697.5 L1905 2699.8 L1909 2702.1 L1912.9 2704.5 L1916.5 2706.8 L1920 2709.2 L1923.4 2711.7 L1926.7 2714.1 L1929.9 2716.6 L1933.1 2719 L1936.4 2721.5 L1939.7 2724 L1942.9 2726.4 L1946.1 2728.8 L1949.3 2731.3 L1952.5 2733.8 L1955.7 2736.3 L1958.8 2738.8 L1961.8 2741.3 L1964.7 2743.8 L1967.6 2746.2 L1970.3 2748.6 L1972.8 2751 L1974.7 2752.7 L1976.4 2754.4 L1978.1 2756 L1979.7 2757.6 L1981.2 2759.1 L1982.8 2760.7 L1984.2 2762.3 L1985.7 2764 L1987.2 2765.9 L1988.7 2767.8 L1990.3 2770 L1992.6 2773.4 L1995 2777.2 L1997.4 2781.2 L1999.8 2785.5 L2002.3 2789.9 L2004.6 2794.5 L2007 2799.2 L2009.3 2803.9 L2011.5 2808.7 L2013.6 2813.4 L2015.6 2818 L2017.6 2822.7 L2019.4 2827.6 L2021.3 2832.4 L2023 2837.4 L2024.7 2842.4 L2026.3 2847.4 L2027.9 2852.4 L2029.3 2857.3 L2030.7 2862.3 L2032 2867.2 L2033.2 2872 L2034.2 2876.3 L2035.1 2880.6 L2035.9 2884.8 L2036.6 2889 L2037.2 2893.2 L2037.9 2897.4 L2038.4 2901.6 L2039 2905.8 L2039.6 2910.1 L2040.3 2914.5 L2041 2919 L2041.9 2924.2 L2042.8 2929.5 L2043.8 2935 L2044.8 2940.5 L2045.8 2946 L2046.7 2951.6 L2047.7 2957.2 L2048.6 2962.8 L2049.4 2968.3 L2050.1 2973.7 L2050.7 2979 L2051.1 2983.8 L2051.5 2988.5 L2051.8 2993.2 L2052 2997.8 L2052.2 3002.4 L2052.3 3007 L2052.4 3011.6 L2052.5 3016.2 L2052.7 3020.8 L2052.8 3025.4 L2053 3030" stroke="#000"/>
<path clip-path="url(#cb)" fill="none" stroke-width="6.5" stroke-linecap="round" stroke-linejoin="round" d="M320.8 1740 L321.2 1749.1 L321.6 1758.3 L322 1767.4 L322.4 1776.6 L322.8 1785.8 L323.2 1794.9 L323.6 1804 L323.9 1813.1 L324.3 1822.1 L324.7 1831.1 L325 1840 L325.3 1848.4 L325.6 1856.7 L325.9 1865.1 L326.2 1873.3 L326.5 1881.6 L326.8 1889.8 L327.1 1897.9 L327.3 1906 L327.6 1914.1 L327.8 1922.1 L328 1930 L328.2 1937.2 L328.3 1944.3 L328.3 1951.1 L328.4 1958 L328.4 1964.7 L328.5 1971.5 L328.5 1978.4 L328.6 1985.5 L328.8 1992.7 L329 2000.2 L329.3 2008 L329.8 2018.6 L330.4 2029.9 L331 2041.7 L331.8 2053.9 L332.6 2066.2 L333.5 2078.7 L334.3 2091.1 L335.3 2103.2 L336.2 2115 L337.1 2126.3 L338 2137 L338.7 2145 L339.4 2152.8 L340.1 2160.4 L340.8 2167.9 L341.5 2175.2 L342.2 2182.3 L343 2189.3 L343.7 2196.2 L344.5 2202.9 L345.4 2209.5 L346.3 2216 L347.1 2221.2 L347.9 2226.3 L348.7 2231.3 L349.5 2236.3 L350.4 2241.1 L351.2 2245.9 L352.1 2250.5 L353 2255.1 L353.9 2259.5 L354.9 2263.8 L355.8 2268 L356.6 2271.2 L357.3 2274.3 L358.1 2277.3 L358.9 2280.3 L359.7 2283.1 L360.5 2286 L361.3 2288.8 L362.2 2291.6 L363 2294.3 L363.8 2297.2 L364.6 2300 L365.4 2302.8 L366.1 2305.4 L366.8 2308.1 L367.5 2310.7 L368.1 2313.3 L368.9 2315.9 L369.6 2318.6 L370.4 2321.4 L371.3 2324.3 L372.2 2327.3 L373.3 2330.5 L375.3 2335.9 L377.7 2341.9 L380.4 2348.6 L383.4 2355.5 L386.5 2362.6 L389.5 2369.7 L392.4 2376.5 L395 2382.8 L397.2 2388.5 L398.8 2393.3 L399.8 2397 L399.9 2398 L400 2398.8 L400 2399.6 L399.9 2400.3 L399.8 2400.9 L399.7 2401.5 L399.6 2402.1 L399.5 2402.8 L399.5 2403.4 L399.6 2404.2 L399.8 2405 L400.5 2406.9 L401.6 2409.1 L402.9 2411.4 L404.4 2414 L406.1 2416.6 L408 2419.3 L409.9 2421.9 L411.9 2424.6 L413.9 2427.2 L415.7 2429.7 L417.5 2432 L419.1 2434 L420.6 2436 L422.2 2437.9 L423.8 2439.7 L425.4 2441.6 L427 2443.4 L428.7 2445.2 L430.3 2446.9 L431.9 2448.7 L433.6 2450.4 L435.2 2452.2 L436.8 2453.8 L438.4 2455.5 L439.9 2457.1 L441.5 2458.7 L443.1 2460.3 L444.7 2461.8 L446.3 2463.4 L447.9 2464.9 L449.5 2466.4 L451.2 2467.9 L452.8 2469.4 L454.4 2470.9 L456 2472.3 L457.6 2473.6 L459.2 2475 L460.8 2476.3 L462.4 2477.7 L464 2479 L465.6 2480.3 L467.3 2481.6 L468.9 2482.9 L470.5 2484.2 L472.1 2485.5 L473.6 2486.7 L475 2487.9 L476.5 2489.1 L478 2490.3 L479.5 2491.5 L481 2492.7 L482.7 2493.9 L484.4 2495.1 L486.2 2496.3 L488.2 2497.5 L491.4 2499.3 L494.9 2501.2 L498.7 2503.1 L502.6 2504.9 L506.7 2506.8 L511 2508.7 L515.3 2510.6 L519.6 2512.4 L523.9 2514.2 L528.2 2515.9 L532.3 2517.5 L536.3 2519 L540.3 2520.5 L544.3 2521.9 L548.3 2523.3 L552.3 2524.6 L556.3 2526 L560.4 2527.2 L564.4 2528.5 L568.4 2529.7 L572.5 2530.9 L576.5 2532.1 L580.5 2533.3 L584.5 2534.4 L588.5 2535.5 L592.5 2536.5 L596.5 2537.6 L600.5 2538.6 L604.5 2539.6 L608.5 2540.6 L612.6 2541.6 L616.6 2542.5 L620.6 2543.5 L624.6 2544.5 L628.6 2545.4 L632.6 2546.4 L636.6 2547.3 L640.7 2548.2 L644.7 2549.1 L648.7 2550 L652.7 2550.8 L656.7 2551.7 L660.8 2552.5 L664.8 2553.2 L668.8 2553.9 L672.8 2554.5 L676.8 2555.1 L680.9 2555.7 L684.9 2556.3 L688.9 2556.8 L692.9 2557.3 L696.9 2557.8 L701 2558.4 L705 2558.9 L709 2559.5 L713 2560.1 L717 2560.7 L721 2561.3 L725 2561.9 L729 2562.5 L733 2563.1 L737 2563.7 L741 2564.3 L745 2564.9 L749.1 2565.6 L753.1 2566.2 L757.2 2566.8 L761.1 2567.5 L765.1 2568.2 L769 2568.9 L772.9 2569.5 L776.9 2570.2 L781 2570.9 L785.2 2571.6 L789.5 2572.2 L794 2572.9 L798.7 2573.5 L805.6 2574.4 L812.9 2575.2 L820.6 2576 L828.6 2576.8 L836.7 2577.6 L845.1 2578.4 L853.5 2579.2 L861.9 2579.9 L870.3 2580.6 L878.5 2581.3 L886.6 2582 L894.5 2582.6 L902.4 2583.2 L910.2 2583.8 L918.1 2584.3 L925.9 2584.8 L933.8 2585.3 L941.6 2585.8 L949.5 2586.3 L957.3 2586.9 L965.2 2587.4 L973.1 2588 L981.1 2588.6 L989 2589.3 L997 2590 L1005 2590.7 L1013 2591.4 L1021 2592.1 L1029 2592.8 L1037 2593.5 L1045 2594.2 L1053 2594.9 L1061 2595.5 L1069 2596.1 L1077 2596.7 L1085.1 2597.3 L1093.1 2597.8 L1101.1 2598.4 L1109.1 2598.9 L1117.2 2599.5 L1125.2 2600 L1133.2 2600.5 L1141.3 2601 L1149.3 2601.5 L1157.4 2602 L1165.4 2602.5 L1173.5 2602.9 L1181.6 2603.4 L1189.7 2603.8 L1197.8 2604.2 L1205.9 2604.7 L1214 2605.1 L1222 2605.5 L1230.1 2606 L1238.2 2606.5 L1246.3 2607 L1254.4 2607.5 L1262.4 2608.1 L1270.5 2608.7 L1278.6 2609.2 L1286.7 2609.8 L1294.8 2610.4 L1302.8 2610.9 L1310.9 2611.5 L1319 2612 L1327 2612.5 L1335 2613 L1342.9 2613.4 L1350.9 2613.8 L1358.8 2614.2 L1366.7 2614.6 L1374.7 2615 L1382.6 2615.4 L1390.5 2615.8 L1398.5 2616.2 L1406.4 2616.6 L1414.4 2617 L1422.6 2617.4 L1431 2617.9 L1439.5 2618.3 L1448 2618.8 L1456.6 2619.2 L1465 2619.7 L1473.3 2620.2 L1481.4 2620.6 L1489.1 2621 L1496.5 2621.5 L1503.4 2621.9 L1507.9 2622.2 L1512.3 2622.4 L1516.4 2622.7 L1520.4 2622.9 L1524.2 2623.2 L1528 2623.4 L1531.7 2623.7 L1535.5 2624 L1539.2 2624.3 L1543.1 2624.6 L1547 2624.9 L1551.1 2625.3 L1555.2 2625.7 L1559.3 2626.1 L1563.4 2626.5 L1567.5 2627 L1571.7 2627.4 L1575.8 2627.9 L1579.9 2628.3 L1584 2628.8 L1588.1 2629.2 L1592.2 2629.7 L1596.2 2630.1 L1600.2 2630.6 L1604.1 2631 L1608.1 2631.4 L1612 2631.8 L1616 2632.2 L1619.9 2632.7 L1623.9 2633.1 L1627.9 2633.6 L1631.8 2634.1 L1635.8 2634.6 L1639.9 2635.1 L1643.9 2635.7 L1648 2636.3 L1652.1 2636.9 L1656.2 2637.5 L1660.2 2638.2 L1664.3 2638.8 L1668.4 2639.5 L1672.5 2640.1 L1676.5 2640.8 L1680.6 2641.4 L1684.6 2642 L1688.6 2642.7 L1692.6 2643.3 L1696.5 2644 L1700.5 2644.6 L1704.5 2645.3 L1708.4 2645.9 L1712.4 2646.6 L1716.4 2647.3 L1720.3 2647.9 L1724.3 2648.6 L1728.3 2649.3 L1732.3 2649.9 L1736.3 2650.5 L1740.3 2651.2 L1744.3 2651.8 L1748.3 2652.4 L1752.3 2653.1 L1756.3 2653.8 L1760.3 2654.5 L1764.3 2655.2 L1768.3 2656 L1772.3 2656.8 L1776.3 2657.6 L1780.2 2658.5 L1784.2 2659.3 L1788.2 2660.2 L1792.1 2661.2 L1796.1 2662.1 L1800 2663.1 L1804 2664.1 L1807.9 2665.1 L1811.9 2666.2 L1815.9 2667.3 L1819.9 2668.5 L1823.9 2669.7 L1827.9 2670.9 L1831.9 2672.2 L1835.9 2673.5 L1839.9 2674.8 L1843.9 2676.1 L1847.9 2677.5 L1851.9 2679 L1855.9 2680.4 L1860 2681.9 L1864.1 2683.4 L1868.3 2685 L1872.4 2686.5 L1876.6 2688.1 L1880.7 2689.8 L1884.8 2691.5 L1888.8 2693.2 L1892.9 2695 L1896.8 2696.9 L1900.7 2698.9 L1904.4 2700.9 L1908.1 2702.9 L1911.8 2705.1 L1915.4 2707.3 L1919 2709.5 L1922.5 2711.8 L1926 2714.2 L1929.5 2716.5 L1932.9 2718.9 L1936.3 2721.3 L1939.7 2723.7 L1942.9 2725.9 L1946.1 2728.3 L1949.3 2730.6 L1952.5 2733 L1955.7 2735.5 L1958.8 2737.9 L1961.8 2740.3 L1964.7 2742.7 L1967.6 2745 L1970.3 2747.4 L1972.8 2749.7 L1974.7 2751.4 L1976.4 2753 L1978.1 2754.6 L1979.7 2756.1 L1981.3 2757.6 L1982.8 2759.2 L1984.3 2760.8 L1985.7 2762.5 L1987.2 2764.3 L1988.7 2766.3 L1990.3 2768.4 L1992.7 2771.9 L1995.1 2775.9 L1997.6 2780.3 L2000.1 2785 L2002.6 2789.8 L2005 2794.7 L2007.4 2799.6 L2009.7 2804.4 L2011.8 2808.9 L2013.8 2813.2 L2015.6 2817.1 L2016.7 2819.5 L2017.8 2821.8 L2018.8 2823.9 L2019.7 2826 L2020.6 2828 L2021.4 2830 L2022.2 2832 L2023 2834 L2023.8 2836.1 L2024.5 2838.3 L2025.3 2840.5 L2026.1 2843.1 L2026.9 2845.8 L2027.7 2848.4 L2028.5 2851.2 L2029.2 2853.9 L2029.9 2856.7 L2030.6 2859.6 L2031.2 2862.5 L2031.9 2865.5 L2032.5 2868.5 L2033.2 2871.6 L2034 2875.5 L2034.7 2879.4 L2035.5 2883.5 L2036.2 2887.6 L2036.8 2891.9 L2037.5 2896.2 L2038.2 2900.5 L2038.9 2904.9 L2039.6 2909.4 L2040.3 2913.9 L2041 2918.4 L2041.9 2923.6 L2042.8 2929 L2043.8 2934.4 L2044.8 2940 L2045.7 2945.6 L2046.7 2951.2 L2047.6 2956.9 L2048.5 2962.5 L2049.3 2968 L2050.1 2973.5 L2050.7 2978.8 L2051.2 2983.6 L2051.6 2988.3 L2051.9 2993 L2052.1 2997.7 L2052.4 3002.3 L2052.6 3006.9 L2052.7 3011.5 L2052.9 3016.1 L2053.1 3020.7 L2053.3 3025.4 L2053.5 3030" stroke="#ff2a24" stroke-dasharray="32 18"/>
<path fill="#ff2a24" d="M329.3 1987.7 L346.3 2018.2 L312.3 2018.2 Z M338 2116.7 L355 2147.2 L321 2147.2 Z M346.3 2195.7 L363.3 2226.2 L329.3 2226.2 Z M355.8 2247.7 L372.8 2278.2 L338.8 2278.2 Z M364.6 2279.7 L381.6 2310.2 L347.6 2310.2 Z M373.3 2310.2 L390.3 2340.7 L356.3 2340.7 Z M399.8 2376.7 L416.8 2407.2 L382.8 2407.2 Z M417.5 2411.7 L434.5 2442.2 L400.5 2442.2 Z M435.2 2431.8 L452.2 2462.3 L418.2 2462.3 Z M452.8 2449.1 L469.8 2479.6 L435.8 2479.6 Z M470.5 2463.9 L487.5 2494.4 L453.5 2494.4 Z M488.1 2477.1 L505.1 2507.6 L471.1 2507.6 Z M532.3 2497.2 L549.3 2527.7 L515.3 2527.7 Z M576.5 2511.8 L593.5 2542.3 L559.5 2542.3 Z M620.6 2523.2 L637.6 2553.7 L603.6 2553.7 Z M664.8 2532.9 L681.8 2563.4 L647.8 2563.4 Z M709 2539.2 L726 2569.7 L692 2569.7 Z M726.6 2541.8 L743.6 2572.3 L709.6 2572.3 Z M753.1 2545.9 L770.1 2576.4 L736.1 2576.4 Z M779.6 2550.3 L796.6 2580.8 L762.6 2580.8 Z M797.3 2553 L814.3 2583.5 L780.3 2583.5 Z M841.4 2557.7 L858.4 2588.2 L824.4 2588.2 Z M885.6 2561.6 L902.6 2592.1 L868.6 2592.1 Z M929.8 2564.7 L946.8 2595.2 L912.8 2595.2 Z M973.9 2567.7 L990.9 2598.2 L956.9 2598.2 Z M1018.1 2571.5 L1035.1 2602 L1001.1 2602 Z M1062.3 2575.3 L1079.3 2605.8 L1045.3 2605.8 Z M1106.4 2578.4 L1123.4 2608.9 L1089.4 2608.9 Z M1150.6 2581.2 L1167.6 2611.7 L1133.6 2611.7 Z M1194.8 2583.7 L1211.8 2614.2 L1177.8 2614.2 Z M1238.9 2586.2 L1255.9 2616.7 L1221.9 2616.7 Z M1283.1 2589.2 L1300.1 2619.7 L1266.1 2619.7 Z M1327.2 2592.2 L1344.2 2622.7 L1310.2 2622.7 Z M1371.4 2594.5 L1388.4 2625 L1354.4 2625 Z M1415.6 2596.7 L1432.6 2627.2 L1398.6 2627.2 Z M1459.7 2599.1 L1476.7 2629.6 L1442.7 2629.6 Z M1503.9 2601.6 L1520.9 2632.1 L1486.9 2632.1 Z M1548 2604.7 L1565 2635.2 L1531 2635.2 Z M1592.2 2609.4 L1609.2 2639.9 L1575.2 2639.9 Z M1609.9 2611.2 L1626.9 2641.7 L1592.9 2641.7 Z M1636.4 2614.3 L1653.4 2644.8 L1619.4 2644.8 Z M1662.9 2618.3 L1679.9 2648.8 L1645.9 2648.8 Z M1680.5 2621.1 L1697.5 2651.6 L1663.5 2651.6 Z M1724.7 2628.3 L1741.7 2658.8 L1707.7 2658.8 Z M1768.9 2635.8 L1785.9 2666.3 L1751.9 2666.3 Z M1813 2646.2 L1830 2676.7 L1796 2676.7 Z M1857.2 2660.5 L1874.2 2691 L1840.2 2691 Z M1901.4 2678.9 L1918.4 2709.4 L1884.4 2709.4 Z M1919 2689.2 L1936 2719.7 L1902 2719.7 Z M1936.7 2701.2 L1953.7 2731.7 L1919.7 2731.7 Z M1954.3 2714.1 L1971.3 2744.6 L1937.3 2744.6 Z M1972 2728.6 L1989 2759.1 L1955 2759.1 Z M1990.3 2748.1 L2007.3 2778.6 L1973.3 2778.6 Z M2015.6 2796.8 L2032.6 2827.3 L1998.6 2827.3 Z M2025.3 2820.2 L2042.3 2850.7 L2008.3 2850.7 Z M2033.2 2851.3 L2050.2 2881.8 L2016.2 2881.8 Z M2041 2898.1 L2058 2928.6 L2024 2928.6 Z M2050.7 2958.5 L2067.7 2989 L2033.7 2989 Z"/>
<path clip-path="url(#cb)" fill="none" stroke-width="6.5" stroke-linecap="round" stroke-linejoin="round" d="M318.8 1740 L319 1752.2 L319.3 1764.6 L319.5 1777.1 L319.7 1789.7 L319.9 1802.2 L320.1 1814.6 L320.4 1826.9 L320.6 1838.9 L320.9 1850.7 L321.2 1862.1 L321.5 1873 L321.8 1881.4 L322.1 1889.6 L322.3 1897.5 L322.7 1905.4 L323 1913 L323.3 1920.5 L323.6 1927.9 L324 1935.2 L324.3 1942.5 L324.7 1949.6 L325 1956.7 L325.3 1963.3 L325.7 1970.5 L326.1 1978 L326.5 1985.7 L326.9 1993.2 L327.3 2000.3 L327.7 2006.7 L328 2012.1 L328.3 2016.3 L328.5 2019 L328.6 2020 L328.5 2014.7 L328.1 2000.3 L327.3 1978.8 L326.4 1952.2 L325.3 1922.6 L324.1 1891.9 L323 1862.3 L322 1835.7 L321.2 1814.2 L320.6 1799.8 L320.4 1794.5 L320.5 1799 L320.9 1811.5 L321.5 1830.6 L322.2 1855 L323.1 1883.2 L324.1 1913.7 L325.2 1945.4 L326.3 1976.6 L327.4 2006 L328.5 2032.3 L329.6 2053.9 L330.3 2066.3 L331 2078.2 L331.7 2089.6 L332.4 2100.6 L333.1 2111.3 L333.8 2121.6 L334.6 2131.6 L335.4 2141.4 L336.2 2151 L337 2160.4 L337.9 2169.7 L338.6 2176.9 L339.3 2183.8 L340.1 2190.7 L340.8 2197.3 L341.6 2203.9 L342.4 2210.3 L343.2 2216.6 L344 2222.7 L344.9 2228.7 L345.8 2234.7 L346.7 2240.5 L347.5 2245.2 L348.3 2249.8 L349.1 2254.3 L350 2258.8 L350.9 2263.1 L351.8 2267.4 L352.6 2271.6 L353.5 2275.8 L354.4 2279.9 L355.3 2284 L356.2 2288 L356.9 2291.5 L357.7 2295 L358.4 2298.4 L359.1 2301.8 L359.8 2305.1 L360.6 2308.4 L361.3 2311.7 L362.1 2314.9 L362.9 2318 L363.7 2321 L364.6 2323.9 L365.3 2326.2 L366.1 2328.3 L366.8 2330.4 L367.6 2332.4 L368.3 2334.3 L369.1 2336.2 L370 2338.2 L370.8 2340.3 L371.8 2342.4 L372.7 2344.7 L373.8 2347.2 L375.6 2351.6 L377.7 2356.5 L379.9 2361.8 L382.3 2367.3 L384.8 2373.1 L387.3 2378.9 L389.9 2384.6 L392.4 2390.2 L395 2395.6 L397.4 2400.5 L399.8 2405 L401.4 2407.9 L403 2410.7 L404.6 2413.4 L406.2 2415.9 L407.8 2418.4 L409.4 2420.8 L410.9 2423.1 L412.5 2425.4 L414.2 2427.6 L415.8 2429.8 L417.5 2432 L419 2434 L420.6 2435.9 L422.2 2437.7 L423.8 2439.5 L425.4 2441.3 L427 2443.1 L428.6 2444.8 L430.3 2446.5 L431.9 2448.2 L433.6 2449.8 L435.2 2451.5 L436.8 2453.1 L438.4 2454.7 L439.9 2456.2 L441.5 2457.7 L443.1 2459.3 L444.7 2460.8 L446.3 2462.2 L447.9 2463.7 L449.5 2465.2 L451.2 2466.6 L452.8 2468 L454.4 2469.3 L456 2470.7 L457.6 2472 L459.2 2473.3 L460.8 2474.6 L462.4 2475.8 L464 2477.1 L465.6 2478.3 L467.3 2479.6 L468.9 2480.8 L470.5 2482 L472.1 2483.2 L473.6 2484.3 L475 2485.5 L476.5 2486.6 L478 2487.7 L479.5 2488.9 L481 2490 L482.7 2491.1 L484.4 2492.2 L486.2 2493.4 L488.2 2494.5 L491.4 2496.3 L494.9 2498 L498.7 2499.9 L502.6 2501.7 L506.8 2503.6 L511 2505.4 L515.3 2507.2 L519.6 2509 L523.9 2510.7 L528.2 2512.4 L532.3 2514 L536.3 2515.5 L540.3 2517 L544.3 2518.4 L548.3 2519.8 L552.3 2521.1 L556.3 2522.4 L560.4 2523.7 L564.4 2525 L568.4 2526.2 L572.5 2527.4 L576.5 2528.6 L580.5 2529.8 L584.5 2530.9 L588.5 2532 L592.5 2533 L596.5 2534.1 L600.5 2535.1 L604.5 2536.1 L608.5 2537.1 L612.6 2538.1 L616.6 2539 L620.6 2540 L624.6 2541 L628.6 2541.9 L632.6 2542.9 L636.6 2543.8 L640.7 2544.7 L644.7 2545.6 L648.7 2546.5 L652.7 2547.3 L656.7 2548.2 L660.8 2549 L664.8 2549.7 L668.8 2550.4 L672.8 2551 L676.8 2551.6 L680.9 2552.2 L684.9 2552.8 L688.9 2553.3 L692.9 2553.8 L696.9 2554.3 L701 2554.9 L705 2555.4 L709 2556 L713 2556.6 L717 2557.2 L721 2557.8 L725 2558.4 L729 2559 L733 2559.6 L737 2560.2 L741 2560.8 L745 2561.4 L749.1 2562.1 L753.1 2562.7 L757.2 2563.3 L761.1 2564 L765.1 2564.7 L769 2565.4 L772.9 2566 L776.9 2566.7 L781 2567.4 L785.2 2568.1 L789.5 2568.7 L794 2569.4 L798.7 2570 L805.6 2570.9 L812.9 2571.7 L820.6 2572.5 L828.6 2573.3 L836.7 2574.1 L845.1 2574.9 L853.5 2575.7 L861.9 2576.4 L870.3 2577.1 L878.5 2577.8 L886.6 2578.5 L894.5 2579.1 L902.4 2579.7 L910.2 2580.3 L918.1 2580.8 L925.9 2581.3 L933.8 2581.8 L941.6 2582.3 L949.5 2582.8 L957.3 2583.4 L965.2 2583.9 L973.1 2584.5 L981.1 2585.1 L989 2585.8 L997 2586.5 L1005 2587.2 L1013 2587.9 L1021 2588.6 L1029 2589.3 L1037 2590 L1045 2590.7 L1053 2591.4 L1061 2592 L1069 2592.6 L1077 2593.2 L1085.1 2593.8 L1093.1 2594.3 L1101.1 2594.9 L1109.1 2595.4 L1117.2 2596 L1125.2 2596.5 L1133.2 2597 L1141.3 2597.5 L1149.3 2598 L1157.4 2598.5 L1165.4 2599 L1173.5 2599.4 L1181.6 2599.9 L1189.7 2600.3 L1197.8 2600.7 L1205.9 2601.2 L1214 2601.6 L1222 2602 L1230.1 2602.5 L1238.2 2603 L1246.3 2603.5 L1254.4 2604 L1262.4 2604.6 L1270.5 2605.2 L1278.6 2605.7 L1286.7 2606.3 L1294.8 2606.9 L1302.8 2607.4 L1310.9 2608 L1319 2608.5 L1327 2609 L1335 2609.5 L1342.9 2609.9 L1350.9 2610.3 L1358.8 2610.7 L1366.7 2611.1 L1374.7 2611.5 L1382.6 2611.9 L1390.5 2612.3 L1398.5 2612.7 L1406.4 2613.1 L1414.4 2613.5 L1422.6 2613.9 L1431 2614.4 L1439.5 2614.8 L1448 2615.3 L1456.6 2615.7 L1465 2616.2 L1473.3 2616.7 L1481.4 2617.1 L1489.1 2617.5 L1496.5 2618 L1503.4 2618.4 L1507.9 2618.7 L1512.3 2618.9 L1516.4 2619.2 L1520.4 2619.4 L1524.2 2619.7 L1528 2619.9 L1531.7 2620.2 L1535.5 2620.5 L1539.2 2620.8 L1543.1 2621.1 L1547 2621.4 L1551.1 2621.8 L1555.2 2622.2 L1559.3 2622.6 L1563.4 2623 L1567.5 2623.5 L1571.7 2623.9 L1575.8 2624.4 L1579.9 2624.8 L1584 2625.3 L1588.1 2625.7 L1592.2 2626.2 L1596.2 2626.6 L1600.2 2627.1 L1604.1 2627.5 L1608.1 2627.9 L1612 2628.3 L1616 2628.7 L1619.9 2629.2 L1623.9 2629.6 L1627.9 2630.1 L1631.8 2630.6 L1635.8 2631.1 L1639.9 2631.6 L1643.9 2632.2 L1648 2632.8 L1652.1 2633.4 L1656.2 2634 L1660.2 2634.7 L1664.3 2635.3 L1668.4 2636 L1672.5 2636.6 L1676.5 2637.3 L1680.6 2637.9 L1684.6 2638.5 L1688.6 2639.2 L1692.6 2639.8 L1696.5 2640.5 L1700.5 2641.1 L1704.5 2641.8 L1708.4 2642.4 L1712.4 2643.1 L1716.4 2643.8 L1720.3 2644.4 L1724.3 2645.1 L1728.3 2645.8 L1732.3 2646.4 L1736.3 2647 L1740.3 2647.7 L1744.3 2648.3 L1748.3 2648.9 L1752.3 2649.6 L1756.3 2650.3 L1760.3 2651 L1764.3 2651.7 L1768.3 2652.5 L1772.3 2653.3 L1776.3 2654.1 L1780.2 2655 L1784.2 2655.8 L1788.2 2656.7 L1792.1 2657.7 L1796.1 2658.6 L1800 2659.6 L1804 2660.6 L1807.9 2661.6 L1811.9 2662.7 L1815.9 2663.8 L1819.9 2665 L1823.9 2666.2 L1827.9 2667.4 L1831.9 2668.7 L1835.9 2670 L1839.9 2671.3 L1843.9 2672.6 L1847.9 2674 L1851.9 2675.5 L1855.9 2676.9 L1860 2678.4 L1864.1 2679.9 L1868.3 2681.4 L1872.4 2683 L1876.6 2684.6 L1880.7 2686.2 L1884.8 2687.9 L1888.9 2689.7 L1892.9 2691.5 L1896.8 2693.4 L1900.7 2695.4 L1904.5 2697.5 L1908.2 2699.7 L1911.8 2701.9 L1915.4 2704.3 L1919 2706.7 L1922.6 2709.1 L1926.1 2711.6 L1929.5 2714.1 L1932.9 2716.7 L1936.3 2719.2 L1939.7 2721.7 L1942.9 2724.1 L1946.1 2726.6 L1949.3 2729.1 L1952.5 2731.6 L1955.7 2734.1 L1958.8 2736.7 L1961.8 2739.2 L1964.7 2741.7 L1967.6 2744.2 L1970.3 2746.6 L1972.8 2749 L1974.7 2750.8 L1976.4 2752.5 L1978.1 2754.1 L1979.7 2755.7 L1981.3 2757.3 L1982.8 2758.9 L1984.2 2760.6 L1985.7 2762.3 L1987.2 2764.2 L1988.7 2766.2 L1990.3 2768.4 L1992.7 2772 L1995.1 2776 L1997.6 2780.4 L2000.1 2785 L2002.5 2789.8 L2005 2794.7 L2007.4 2799.6 L2009.6 2804.4 L2011.8 2808.9 L2013.8 2813.2 L2015.6 2817.1 L2016.7 2819.5 L2017.8 2821.8 L2018.8 2823.9 L2019.7 2826 L2020.6 2828 L2021.4 2830 L2022.2 2832 L2023 2834 L2023.8 2836.1 L2024.5 2838.3 L2025.3 2840.5 L2026.1 2843.1 L2026.9 2845.8 L2027.7 2848.4 L2028.5 2851.2 L2029.2 2853.9 L2029.9 2856.7 L2030.6 2859.6 L2031.2 2862.5 L2031.9 2865.5 L2032.5 2868.5 L2033.2 2871.6 L2034 2875.5 L2034.7 2879.4 L2035.5 2883.5 L2036.2 2887.6 L2036.8 2891.9 L2037.5 2896.2 L2038.2 2900.5 L2038.9 2904.9 L2039.6 2909.4 L2040.3 2913.9 L2041 2918.4 L2041.9 2923.6 L2042.8 2929 L2043.8 2934.4 L2044.8 2940 L2045.7 2945.6 L2046.7 2951.2 L2047.6 2956.9 L2048.5 2962.5 L2049.3 2968 L2050.1 2973.5 L2050.7 2978.8 L2051.2 2983.6 L2051.6 2988.3 L2051.9 2993 L2052.1 2997.7 L2052.4 3002.3 L2052.6 3006.9 L2052.7 3011.5 L2052.9 3016.1 L2053.1 3020.7 L2053.3 3025.4 L2053.5 3030" stroke="#4a2086" stroke-dasharray="32 18"/>
<path fill="#4a2086" d="M320.4 1814.8 L337.4 1784.3 L303.4 1784.3 Z M329.6 2074.2 L346.6 2043.7 L312.6 2043.7 Z M337.9 2190 L354.9 2159.5 L320.9 2159.5 Z M346.7 2260.8 L363.7 2230.3 L329.7 2230.3 Z M356.2 2308.3 L373.2 2277.8 L339.2 2277.8 Z M364.6 2344.2 L381.6 2313.7 L347.6 2313.7 Z M373.8 2367.5 L390.8 2337 L356.8 2337 Z M399.8 2425.4 L416.8 2394.9 L382.8 2394.9 Z M417.5 2452.3 L434.5 2421.8 L400.5 2421.8 Z M435.2 2471.8 L452.2 2441.3 L418.2 2441.3 Z M452.8 2488.4 L469.8 2457.9 L435.8 2457.9 Z M470.5 2502.3 L487.5 2471.8 L453.5 2471.8 Z M488.1 2514.8 L505.1 2484.3 L471.1 2484.3 Z M532.3 2534.3 L549.3 2503.8 L515.3 2503.8 Z M576.5 2548.9 L593.5 2518.4 L559.5 2518.4 Z M620.6 2560.3 L637.6 2529.8 L603.6 2529.8 Z M664.8 2570 L681.8 2539.5 L647.8 2539.5 Z M709 2576.3 L726 2545.8 L692 2545.8 Z M726.6 2579 L743.6 2548.5 L709.6 2548.5 Z M753.1 2583 L770.1 2552.5 L736.1 2552.5 Z M779.6 2587.5 L796.6 2557 L762.6 2557 Z M797.3 2590.1 L814.3 2559.6 L780.3 2559.6 Z M841.4 2594.9 L858.4 2564.4 L824.4 2564.4 Z M885.6 2598.8 L902.6 2568.3 L868.6 2568.3 Z M929.8 2601.9 L946.8 2571.4 L912.8 2571.4 Z M973.9 2604.9 L990.9 2574.4 L956.9 2574.4 Z M1018.1 2608.7 L1035.1 2578.2 L1001.1 2578.2 Z M1062.3 2612.4 L1079.3 2581.9 L1045.3 2581.9 Z M1106.4 2615.6 L1123.4 2585.1 L1089.4 2585.1 Z M1150.6 2618.4 L1167.6 2587.9 L1133.6 2587.9 Z M1194.8 2620.9 L1211.8 2590.4 L1177.8 2590.4 Z M1238.9 2623.4 L1255.9 2592.9 L1221.9 2592.9 Z M1283.1 2626.4 L1300.1 2595.9 L1266.1 2595.9 Z M1327.2 2629.3 L1344.2 2598.8 L1310.2 2598.8 Z M1371.4 2631.7 L1388.4 2601.2 L1354.4 2601.2 Z M1415.6 2633.9 L1432.6 2603.4 L1398.6 2603.4 Z M1459.7 2636.2 L1476.7 2605.7 L1442.7 2605.7 Z M1503.9 2638.8 L1520.9 2608.3 L1486.9 2608.3 Z M1548 2641.8 L1565 2611.3 L1531 2611.3 Z M1592.2 2646.5 L1609.2 2616 L1575.2 2616 Z M1609.9 2648.4 L1626.9 2617.9 L1592.9 2617.9 Z M1636.4 2651.5 L1653.4 2621 L1619.4 2621 Z M1662.9 2655.4 L1679.9 2624.9 L1645.9 2624.9 Z M1680.5 2658.2 L1697.5 2627.7 L1663.5 2627.7 Z M1724.7 2665.5 L1741.7 2635 L1707.7 2635 Z M1768.9 2672.9 L1785.9 2642.4 L1751.9 2642.4 Z M1813 2683.3 L1830 2652.8 L1796 2652.8 Z M1857.2 2697.7 L1874.2 2667.2 L1840.2 2667.2 Z M1901.4 2716.1 L1918.4 2685.6 L1884.4 2685.6 Z M1919 2727 L1936 2696.5 L1902 2696.5 Z M1936.7 2739.8 L1953.7 2709.3 L1919.7 2709.3 Z M1954.3 2753.4 L1971.3 2722.9 L1937.3 2722.9 Z M1972 2768.6 L1989 2738.1 L1955 2738.1 Z M1990.3 2788.7 L2007.3 2758.2 L1973.3 2758.2 Z M2015.6 2837.4 L2032.6 2806.9 L1998.6 2806.9 Z M2025.3 2860.8 L2042.3 2830.3 L2008.3 2830.3 Z M2033.2 2891.9 L2050.2 2861.4 L2016.2 2861.4 Z M2041 2938.7 L2058 2908.2 L2024 2908.2 Z M2050.7 2999.1 L2067.7 2968.6 L2033.7 2968.6 Z"/>
<path clip-path="url(#cb)" fill="none" stroke-width="6.5" stroke-linecap="round" stroke-linejoin="round" d="M319.5 1740 L319.6 1755.4 L319.7 1771.1 L319.8 1787 L319.9 1803 L319.9 1819 L320 1834.8 L320.1 1850.3 L320.3 1865.4 L320.4 1879.9 L320.6 1893.7 L320.8 1906.7 L321 1915.3 L321.2 1923.6 L321.4 1931.5 L321.6 1939.1 L321.8 1946.5 L322 1953.8 L322.3 1960.9 L322.5 1968.1 L322.8 1975.3 L323 1982.5 L323.3 1990 L323.6 1997.6 L323.8 2005.3 L324.1 2013 L324.4 2020.8 L324.7 2028.5 L325 2036.2 L325.3 2043.8 L325.6 2051.4 L326 2058.8 L326.3 2066 L326.7 2073 L327 2078.7 L327.4 2084.2 L327.7 2089.5 L328.1 2094.8 L328.4 2099.9 L328.8 2105 L329.2 2110.2 L329.6 2115.5 L330 2120.9 L330.4 2126.6 L330.8 2132.5 L331.3 2140.5 L331.8 2148.9 L332.2 2157.6 L332.6 2166.6 L333.1 2175.7 L333.6 2184.9 L334.1 2194.2 L334.8 2203.4 L335.5 2212.4 L336.3 2221.3 L337.3 2229.9 L338.3 2237.6 L339.4 2245.3 L340.5 2252.9 L341.7 2260.5 L343 2268 L344.3 2275.4 L345.7 2282.7 L347.2 2290 L348.7 2297.1 L350.3 2304.1 L352 2311 L353.5 2317 L355 2323 L356.6 2329 L358.3 2334.8 L359.9 2340.6 L361.7 2346.3 L363.5 2351.9 L365.3 2357.3 L367.3 2362.6 L369.3 2367.7 L371.4 2372.7 L373.2 2376.7 L375 2380.5 L376.9 2384.2 L378.8 2387.8 L380.8 2391.4 L382.8 2394.8 L384.9 2398.2 L387.1 2401.6 L389.4 2404.9 L391.7 2408.3 L394.2 2411.7 L397 2415.4 L399.9 2419 L402.9 2422.6 L406 2426.2 L409.2 2429.8 L412.4 2433.3 L415.8 2436.8 L419.2 2440.3 L422.7 2443.7 L426.3 2447.2 L429.9 2450.6 L433.9 2454.3 L438 2458.1 L442.1 2461.9 L446.3 2465.6 L450.6 2469.3 L455.1 2473 L459.6 2476.6 L464.2 2480.1 L468.9 2483.4 L473.7 2486.6 L478.6 2489.6 L484 2492.6 L489.5 2495.3 L495.1 2497.9 L500.8 2500.4 L506.7 2502.7 L512.7 2504.9 L518.7 2507.1 L524.8 2509.2 L531 2511.3 L537.2 2513.4 L543.5 2515.6 L550.5 2518 L557.6 2520.4 L564.9 2522.8 L572.2 2525.2 L579.7 2527.5 L587.1 2529.8 L594.7 2532 L602.2 2534.2 L609.7 2536.2 L617.2 2538.2 L624.7 2540 L632 2541.7 L639.3 2543.3 L646.6 2544.7 L653.8 2546.1 L661.1 2547.4 L668.4 2548.7 L675.8 2549.9 L683.2 2551.1 L690.6 2552.2 L698.2 2553.4 L705.8 2554.5 L714.1 2555.7 L722.4 2556.9 L730.9 2558 L739.4 2559 L748 2560.1 L756.6 2561.1 L765.2 2562.1 L773.9 2563 L782.6 2564 L791.3 2565 L800 2566 L809 2567 L817.9 2568.1 L826.9 2569.2 L835.9 2570.2 L844.9 2571.3 L853.9 2572.3 L863 2573.3 L872.2 2574.3 L881.4 2575.2 L890.6 2576.1 L900 2577 L910.1 2577.8 L920.2 2578.6 L930.5 2579.4 L940.8 2580.1 L951.1 2580.7 L961.6 2581.3 L972 2582 L982.5 2582.6 L992.9 2583.2 L1003.4 2583.8 L1013.8 2584.5 L1024.3 2585.2 L1034.8 2585.9 L1045.4 2586.6 L1055.9 2587.3 L1066.5 2588 L1077.1 2588.7 L1087.6 2589.4 L1098.2 2590 L1108.8 2590.7 L1119.4 2591.4 L1130 2592 L1140.7 2592.6 L1151.3 2593.2 L1162 2593.8 L1172.7 2594.4 L1183.4 2595 L1194.1 2595.5 L1204.7 2596.1 L1215.4 2596.7 L1226.1 2597.3 L1236.8 2597.9 L1247.5 2598.5 L1258.2 2599.1 L1268.9 2599.8 L1279.6 2600.5 L1290.3 2601.2 L1300.9 2601.9 L1311.6 2602.6 L1322.3 2603.3 L1333 2604 L1343.7 2604.7 L1354.3 2605.3 L1365 2606 L1375.7 2606.6 L1386.6 2607.3 L1397.7 2607.9 L1408.7 2608.5 L1419.8 2609.2 L1430.7 2609.8 L1441.5 2610.4 L1452 2611 L1462.2 2611.7 L1472 2612.3 L1481.3 2613 L1487.9 2613.5 L1494.3 2614 L1500.3 2614.5 L1506.2 2615 L1511.9 2615.5 L1517.5 2616.1 L1523.2 2616.6 L1528.9 2617.2 L1534.7 2617.8 L1540.7 2618.4 L1547 2619 L1554.6 2619.8 L1562.3 2620.6 L1570.3 2621.4 L1578.3 2622.2 L1586.5 2623.1 L1594.7 2624 L1603 2624.9 L1611.3 2625.9 L1619.5 2626.9 L1627.7 2627.9 L1635.8 2629 L1643.9 2630.1 L1651.9 2631.3 L1660 2632.4 L1668 2633.6 L1676.1 2634.9 L1684.1 2636.2 L1692.2 2637.5 L1700.2 2638.8 L1708.3 2640.2 L1716.3 2641.6 L1724.3 2643 L1732.3 2644.4 L1740.3 2645.8 L1748.3 2647.1 L1756.3 2648.5 L1764.2 2649.9 L1772.2 2651.4 L1780.2 2653 L1788.1 2654.6 L1796.1 2656.4 L1804 2658.4 L1811.9 2660.5 L1820.2 2662.9 L1828.7 2665.4 L1837.3 2668.2 L1845.9 2671 L1854.6 2674 L1863.1 2677 L1871.4 2680.2 L1879.3 2683.4 L1887 2686.6 L1894.1 2689.8 L1900.7 2693 L1905 2695.3 L1909 2697.5 L1912.9 2699.8 L1916.5 2702.1 L1920 2704.5 L1923.4 2706.8 L1926.7 2709.2 L1929.9 2711.6 L1933.2 2714 L1936.4 2716.5 L1939.7 2719 L1942.9 2721.4 L1946.1 2723.9 L1949.4 2726.5 L1952.6 2729.1 L1955.7 2731.7 L1958.8 2734.3 L1961.8 2736.9 L1964.8 2739.5 L1967.6 2742 L1970.3 2744.5 L1972.8 2747 L1974.7 2748.8 L1976.4 2750.6 L1978.1 2752.3 L1979.7 2753.9 L1981.3 2755.6 L1982.8 2757.2 L1984.2 2759 L1985.7 2760.8 L1987.2 2762.7 L1988.7 2764.8 L1990.3 2767 L1992.6 2770.5 L1995 2774.4 L1997.4 2778.5 L1999.8 2782.9 L2002.2 2787.4 L2004.6 2792.1 L2007 2796.8 L2009.3 2801.7 L2011.5 2806.5 L2013.6 2811.3 L2015.6 2816 L2017.6 2820.8 L2019.4 2825.7 L2021.3 2830.7 L2023 2835.8 L2024.7 2840.8 L2026.3 2845.9 L2027.8 2851 L2029.3 2856.1 L2030.7 2861.1 L2032 2866.1 L2033.2 2871 L2034.2 2875.4 L2035.1 2879.7 L2035.9 2884 L2036.6 2888.2 L2037.2 2892.4 L2037.8 2896.6 L2038.4 2900.9 L2039 2905.1 L2039.6 2909.5 L2040.3 2913.9 L2041 2918.4 L2041.9 2923.6 L2042.8 2929 L2043.8 2934.5 L2044.8 2940 L2045.8 2945.6 L2046.7 2951.2 L2047.7 2956.9 L2048.6 2962.5 L2049.4 2968 L2050.1 2973.5 L2050.7 2978.8 L2051.1 2983.6 L2051.5 2988.3 L2051.8 2993 L2052 2997.7 L2052.2 3002.3 L2052.3 3006.9 L2052.4 3011.5 L2052.5 3016.1 L2052.7 3020.7 L2052.8 3025.4 L2053 3030" stroke="#ff1f87" stroke-dasharray="43 17 0.5 17" stroke-dashoffset="11.9"/>
<rect x="311.5" y="1748" width="1766.5" height="1270.3" fill="none" stroke="#111" stroke-width="3"/>
<path d="M293 1748H311.5M293 1959.7H311.5M293 2171.4H311.5M293 2383.2H311.5M293 2594.9H311.5M293 2806.6H311.5M293 3018.3H311.5M311.5 3018.3V3037.3M753.1 3018.3V3037.3M1194.8 3018.3V3037.3M1636.4 3018.3V3037.3M2078 3018.3V3037.3" stroke="#111" stroke-width="3" fill="none"/>
<text x="253.5" y="1772.5" text-anchor="end" class="tk">4</text>
<text x="253.5" y="1984.2" text-anchor="end" class="tk">3</text>
<text x="253.5" y="2195.9" text-anchor="end" class="tk">2</text>
<text x="253.5" y="2407.7" text-anchor="end" class="tk">1</text>
<text x="253.5" y="2619.4" text-anchor="end" class="tk">0</text>
<text x="253.5" y="2831.1" text-anchor="end" class="tk">-1</text>
<text x="253.5" y="3042.8" text-anchor="end" class="tk">-2</text>
<text x="311.5" y="3146" text-anchor="middle" class="tk">-1.0</text>
<text x="753.1" y="3146" text-anchor="middle" class="tk">-0.5</text>
<text x="1194.8" y="3146" text-anchor="middle" class="tk">0.0</text>
<text x="1636.4" y="3146" text-anchor="middle" class="tk">0.5</text>
<text x="2078" y="3146" text-anchor="middle" class="tk">1.0</text>
<rect x="891" y="1878.2" width="579.6" height="473" fill="#fefefe" stroke="#111" stroke-width="3"/>
<g stroke-width="6.5" stroke-linecap="round" fill="none">
<line x1="928.6" y1="1963.9" x2="1084.6" y2="1963.9" stroke="#000"/>
<line x1="928.6" y1="2071.4" x2="1084.6" y2="2071.4" stroke="#ff2a24" stroke-dasharray="32 18"/>
<line x1="928.6" y1="2179.3" x2="1084.6" y2="2179.3" stroke="#4a2086" stroke-dasharray="32 18"/>
<line x1="928.6" y1="2275.5" x2="1067.6" y2="2275.5" stroke="#ff1f87" stroke-dasharray="43 17 0.5 17"/>
</g>
<path fill="#ff2a24" d="M1006.6 2051.1 L1023.6 2081.6 L989.6 2081.6 Z"/>
<path fill="#4a2086" d="M1006.6 2199.6 L1023.6 2169.1 L989.6 2169.1 Z"/>
<text x="1127" y="1975.4" class="lg"><tspan font-style="italic">d</tspan> = 0.02 <tspan font-style="italic">c</tspan><tspan class="lsub" dy="23">1</tspan></text>
<text x="1127" y="2083.4" class="lg"><tspan font-style="italic">d</tspan> = 0.2 <tspan font-style="italic">c</tspan><tspan class="lsub" dy="23">1</tspan></text>
<text x="1127" y="2191.3" class="lg"><tspan font-style="italic">d</tspan> = 0.4 <tspan font-style="italic">c</tspan><tspan class="lsub" dy="23">1</tspan></text>
<text x="1127" y="2297" class="lg">Single film</text>
<text transform="translate(92.3 2740.6) scale(1.0105) rotate(-90)" class="yt"><tspan x="0" y="0">Shear stress</tspan><tspan x="455.4" y="0" class="gk">σ</tspan><tspan x="502.7" y="28.5" class="ysub" style="letter-spacing:-3.5px">xz</tspan><tspan x="549" y="0">/</tspan><tspan x="573" y="0" font-style="italic">E</tspan><tspan x="625.5" y="29" class="ysub" style="font-size:65px">T</tspan><tspan x="669.8" y="0" class="gk" style="font-size:79.5px">θ</tspan></text>
<text y="3291" style="font-size:90px"><tspan x="1124" font-style="italic">x</tspan><tspan x="1167.3">/</tspan><tspan x="1191.8" font-style="italic">c</tspan><tspan x="1232.4" y="3319.5" style="font-size:57px">2</tspan></text>
<text x="57" y="1759.2" class="pl">(b)</text>
</svg>
</body></html>
